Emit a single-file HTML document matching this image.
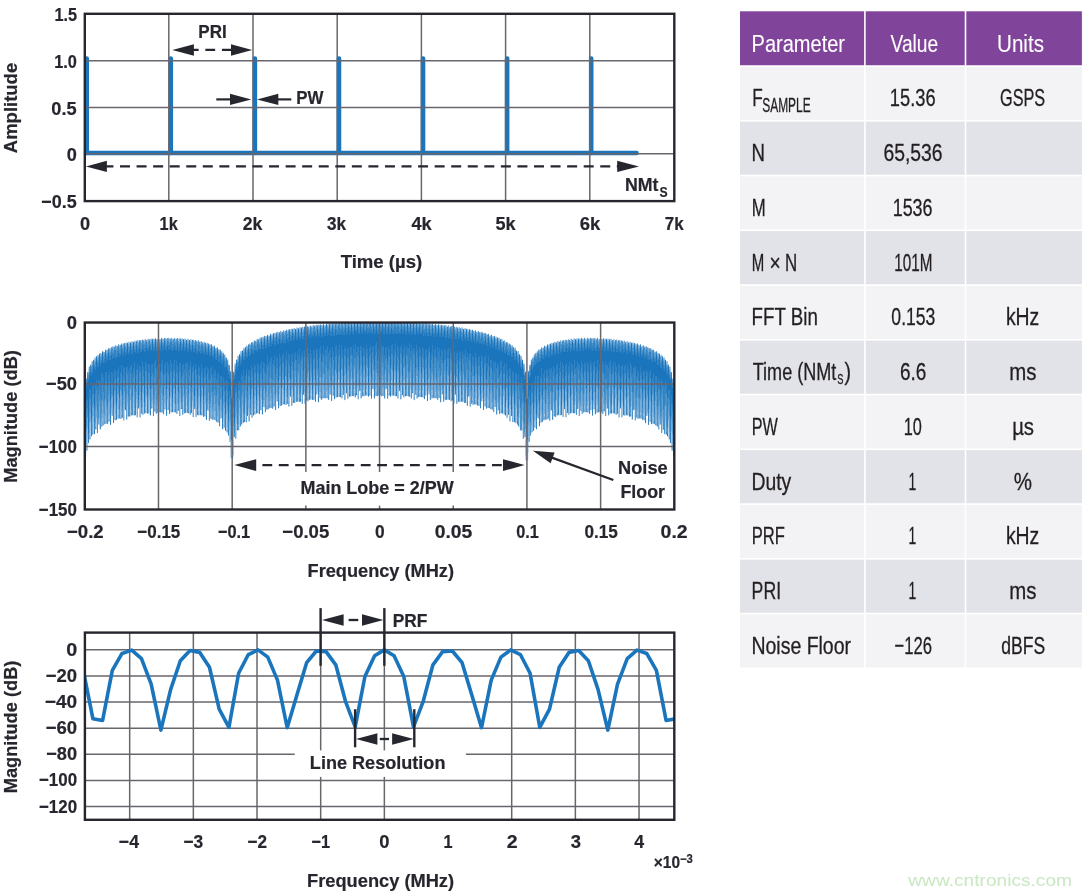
<!DOCTYPE html>
<html lang="en"><head><meta charset="utf-8"><title>Pulse train: time domain, spectrum and parameters</title>
<style>
html,body{margin:0;padding:0;background:#fff}
body{width:1092px;height:895px;overflow:hidden}
svg{display:block;will-change:transform;font-family:"Liberation Sans", sans-serif;font-size:18.2px;font-weight:bold;fill:#26262e}
text{stroke:#26262e;stroke-width:.2px}
.t text{stroke:#231f20;stroke-width:.3px}
.t text[fill="#ffffff"]{stroke:#fff;stroke-width:.1px}
.w text{stroke:none}
</style></head><body>
<svg width="1092" height="895" viewBox="0 0 1092 895">
<rect width="1092" height="895" fill="#fff"/>
<g id="chart-time">
<path d="M86.70,153 V58.5 M170.78,153 V58.5 M254.86,153 V58.5 M338.94,153 V58.5 M423.02,153 V58.5 M507.10,153 V58.5 M591.18,153 V58.5" stroke="#1b75bc" stroke-width="4.6" fill="none" stroke-linecap="round"/>
<line x1="86.00" y1="153.05" x2="636.60" y2="153.05" stroke="#1b75bc" stroke-width="4.5" stroke-linecap="round"/>
<line x1="168.80" y1="13.80" x2="168.80" y2="201.10" stroke="#68666d" stroke-width="1.5"/>
<line x1="253.00" y1="13.80" x2="253.00" y2="201.10" stroke="#68666d" stroke-width="1.5"/>
<line x1="337.20" y1="13.80" x2="337.20" y2="201.10" stroke="#68666d" stroke-width="1.5"/>
<line x1="421.40" y1="13.80" x2="421.40" y2="201.10" stroke="#68666d" stroke-width="1.5"/>
<line x1="505.60" y1="13.80" x2="505.60" y2="201.10" stroke="#68666d" stroke-width="1.5"/>
<line x1="589.80" y1="13.80" x2="589.80" y2="201.10" stroke="#68666d" stroke-width="1.5"/>
<line x1="84.80" y1="60.67" x2="674.30" y2="60.67" stroke="#68666d" stroke-width="1.5"/>
<line x1="84.80" y1="107.60" x2="674.30" y2="107.60" stroke="#68666d" stroke-width="1.5"/>
<line x1="84.80" y1="153.65" x2="674.30" y2="153.65" stroke="#68666d" stroke-width="1.5"/>
<rect x="84.80" y="13.80" width="589.50" height="187.30" fill="none" stroke="#26262e" stroke-width="2.4"/>
<text x="54.55" y="21.10" textLength="22.60" lengthAdjust="spacingAndGlyphs" font-size="18.9">1.5</text>
<text x="54.18" y="67.97" textLength="22.68" lengthAdjust="spacingAndGlyphs" font-size="18.9">1.0</text>
<text x="51.33" y="114.90" textLength="25.32" lengthAdjust="spacingAndGlyphs" font-size="18.9">0.5</text>
<text x="66.83" y="160.95" textLength="10.10" lengthAdjust="spacingAndGlyphs" font-size="18.9">0</text>
<text x="41.24" y="208.40" textLength="35.41" lengthAdjust="spacingAndGlyphs" font-size="18.9">−0.5</text>
<text x="80.03" y="229.80" textLength="10.10" lengthAdjust="spacingAndGlyphs" font-size="18.9">0</text>
<text x="159.60" y="229.80" textLength="18.08" lengthAdjust="spacingAndGlyphs" font-size="18.9">1k</text>
<text x="242.65" y="229.80" textLength="19.54" lengthAdjust="spacingAndGlyphs" font-size="18.9">2k</text>
<text x="326.93" y="229.80" textLength="19.01" lengthAdjust="spacingAndGlyphs" font-size="18.9">3k</text>
<text x="411.45" y="229.80" textLength="20.23" lengthAdjust="spacingAndGlyphs" font-size="18.9">4k</text>
<text x="495.42" y="229.80" textLength="20.07" lengthAdjust="spacingAndGlyphs" font-size="18.9">5k</text>
<text x="579.72" y="229.80" textLength="20.56" lengthAdjust="spacingAndGlyphs" font-size="18.9">6k</text>
<text x="664.87" y="229.80" textLength="18.82" lengthAdjust="spacingAndGlyphs" font-size="18.9">7k</text>
<text x="340.70" y="268.00" textLength="81.52" lengthAdjust="spacingAndGlyphs">Time (µs)</text>
<text transform="translate(17.45,152.90) rotate(-90)" x="-0.29" y="0" textLength="90.35" lengthAdjust="spacingAndGlyphs" font-size="18.5">Amplitude</text>
<text x="198.34" y="38.30" textLength="28.37" lengthAdjust="spacingAndGlyphs">PRI</text>
<polygon points="172.30,49.90 193.90,44.15 193.90,55.65" fill="#26262e"/>
<polygon points="252.20,49.90 231.00,44.15 231.00,55.65" fill="#26262e"/>
<line x1="188.80" y1="49.90" x2="232.00" y2="49.90" stroke="#26262e" stroke-width="2.3" stroke-dasharray="9.8 6.75"/>
<polygon points="251.30,99.40 230.00,93.70 230.00,105.10" fill="#26262e"/>
<line x1="216.30" y1="99.40" x2="231.00" y2="99.40" stroke="#26262e" stroke-width="2.2"/>
<polygon points="257.00,99.40 278.30,93.70 278.30,105.10" fill="#26262e"/>
<line x1="277.00" y1="99.40" x2="291.30" y2="99.40" stroke="#26262e" stroke-width="2.2"/>
<text x="296.34" y="103.60" textLength="27.20" lengthAdjust="spacingAndGlyphs">PW</text>
<polygon points="85.90,166.40 106.90,160.80 106.90,172.00" fill="#26262e"/>
<polygon points="639.00,166.40 617.20,160.80 617.20,172.00" fill="#26262e"/>
<line x1="103.44" y1="166.40" x2="626.00" y2="166.40" stroke="#26262e" stroke-width="2.2" stroke-dasharray="10 6.56"/>
<text x="624.89" y="191.00" textLength="33.50" lengthAdjust="spacingAndGlyphs">NMt</text>
<text x="659.49" y="196.90" textLength="8.15" lengthAdjust="spacingAndGlyphs" font-size="14.2">S</text>
</g>
<g id="chart-spectrum">
<g shape-rendering="crispEdges" fill="none" stroke-width="1">
<path stroke="#e8f1f8" d="M85.5 379V457M86.5 378V457M87.5 372V451M88.5 366V444M89.5 366V440M90.5 364V440M91.5 361V437M92.5 361V435M93.5 359V435M94.5 357V435M95.5 357V430M96.5 356V433M97.5 355V433M98.5 355V425M99.5 353V430M100.5 353V430M101.5 353V427M102.5 351V427M103.5 351V426M104.5 351V425M105.5 349V424M106.5 349V424M107.5 349V425M108.5 348V424M109.5 348V422M110.5 347V425M111.5 347V419M111.5 420V424M112.5 346V416M113.5 346V424M114.5 346V421M115.5 345V421M116.5 345V420M117.5 345V419M118.5 344V419M119.5 344V419M120.5 344V419M121.5 343V419M122.5 343V418M123.5 343V421M124.5 343V421M125.5 342V411M126.5 342V420M127.5 342V420M128.5 341V417M129.5 341V417M130.5 342V417M131.5 341V416M132.5 341V416M133.5 341V416M134.5 340V416M135.5 340V416M136.5 340V418M137.5 340V418M138.5 340V409M139.5 340V418M140.5 340V418M141.5 340V414M142.5 339V415M143.5 340V415M144.5 339V414M145.5 339V414M146.5 340V414M147.5 339V414M148.5 338V414M149.5 339V415M150.5 338V416M151.5 338V409M152.5 338V416M153.5 338V417M154.5 338V412M155.5 338V414M156.5 339V414M157.5 339V413M158.5 338V413M159.5 339V413M160.5 339V413M161.5 337V413M162.5 338V413M163.5 338V415M164.5 338V414M165.5 338V410M166.5 338V416M167.5 338V415M168.5 337V411M169.5 338V414M170.5 338V413M171.5 337V413M172.5 338V413M173.5 339V413M174.5 337V413M175.5 338V413M176.5 338V414M177.5 338V414M178.5 338V411M179.5 338V416M180.5 338V416M181.5 338V410M182.5 338V415M183.5 339V415M184.5 338V414M185.5 338V414M186.5 339V413M187.5 338V413M188.5 338V414M189.5 339V415M190.5 339V415M191.5 339V413M192.5 339V417M193.5 339V418M194.5 340V410M195.5 340V417M196.5 340V417M197.5 340V416M198.5 340V416M199.5 341V416M200.5 341V416M201.5 341V416M202.5 342V416M203.5 342V417M204.5 341V417M205.5 342V419M206.5 343V420M207.5 342V411M208.5 343V421M209.5 344V421M210.5 344V419M211.5 344V420M212.5 345V420M213.5 346V420M214.5 345V421M215.5 347V421M216.5 347V422M217.5 347V423M218.5 349V423M219.5 349V427M220.5 349V426M221.5 351V419M222.5 351V430M223.5 352V429M224.5 354V428M225.5 354V431M226.5 357V433M227.5 359V435M228.5 359V436M229.5 365V442M230.5 371V452M231.5 372V453M232.5 385V456M233.5 371V456M234.5 363V438M235.5 363V439M236.5 359V439M237.5 355V431M238.5 355V431M239.5 354V430M240.5 351V427M241.5 351V425M242.5 350V425M243.5 347V423M244.5 347V422M245.5 347V422M246.5 345V423M247.5 345V417M248.5 344V422M249.5 343V422M250.5 343V415M251.5 342V418M252.5 342V418M253.5 340V416M254.5 340V415M255.5 340V415M256.5 339V414M257.5 338V414M258.5 339V414M259.5 337V414M260.5 337V411M261.5 337V414M262.5 336V415M263.5 336V407M264.5 335V412M265.5 336V413M266.5 336V410M267.5 334V410M268.5 335V410M269.5 335V409M270.5 333V408M271.5 334V408M272.5 334V409M273.5 333V409M274.5 333V407M275.5 332V410M276.5 332V410M277.5 331V402M278.5 332V409M279.5 332V408M280.5 330V406M281.5 331V406M282.5 331V405M283.5 330V405M284.5 330V405M285.5 330V405M286.5 329V405M287.5 330V404M288.5 329V407M289.5 329V407M290.5 329V397M291.5 328V406M292.5 328V406M293.5 328V403M294.5 328V403M295.5 328V403M296.5 327V402M297.5 327V402M298.5 328V402M299.5 327V403M300.5 327V402M301.5 327V404M302.5 326V404M303.5 327V395M304.5 326V404M305.5 326V404M306.5 326V401M307.5 325V402M308.5 326V402M309.5 325V400M310.5 325V400M311.5 326V400M312.5 325V400M313.5 325V400M314.5 325V400M315.5 325V402M316.5 324V395M317.5 324V402M318.5 324V403M319.5 324V398M320.5 324V400M321.5 324V400M322.5 325V399M323.5 323V399M324.5 325V399M325.5 325V399M326.5 323V399M327.5 324V399M328.5 324V400M329.5 323V400M330.5 323V395M331.5 323V401M332.5 323V401M333.5 323V396M334.5 323V400M335.5 323V399M336.5 323V398M337.5 323V398M338.5 323V397M339.5 323V397M340.5 323V398M341.5 323V399M342.5 323V399M343.5 323V395M344.5 323V401M345.5 323V400M346.5 323V394M347.5 323V399M348.5 323V399M349.5 323V397M350.5 323V397M351.5 323V397M352.5 323V397M353.5 323V397M354.5 323V397M355.5 323V398M356.5 323V396M357.5 323V400M358.5 323V400M359.5 323V392M360.5 323V399M361.5 323V399M362.5 323V397M363.5 323V397M364.5 323V397M365.5 323V396M366.5 323V396M367.5 323V396M368.5 323V397M369.5 323V396M370.5 323V396M371.5 323V399M372.5 323V390M373.5 323V398M374.5 323V399M375.5 323V396M376.5 323V396M377.5 323V397M378.5 323V396M379.5 323V396M380.5 323V396M381.5 323V397M382.5 323V396M383.5 323V396M384.5 323V399M385.5 323V399M386.5 323V390M387.5 323V399M388.5 323V399M389.5 323V396M390.5 323V397M391.5 323V396M392.5 323V396M393.5 323V396M394.5 323V396M395.5 323V397M396.5 323V397M397.5 323V399M398.5 323V399M399.5 323V392M400.5 323V400M401.5 323V400M402.5 323V396M403.5 323V398M404.5 323V398M405.5 323V397M406.5 323V397M407.5 323V396M408.5 323V397M409.5 323V397M410.5 323V399M411.5 323V399M412.5 323V394M413.5 323V400M414.5 323V401M415.5 323V395M416.5 323V399M417.5 323V399M418.5 323V398M419.5 323V397M420.5 323V397M421.5 323V398M422.5 323V398M423.5 323V398M424.5 323V400M425.5 323V396M426.5 323V396M427.5 323V401M428.5 323V395M429.5 323V400M430.5 324V400M431.5 324V399M432.5 323V399M433.5 325V399M434.5 325V399M435.5 323V399M436.5 325V399M437.5 325V400M438.5 324V400M439.5 324V398M440.5 324V403M441.5 324V402M442.5 325V395M443.5 325V402M444.5 325V402M445.5 325V400M446.5 325V400M447.5 326V400M448.5 325V400M449.5 325V400M450.5 326V402M451.5 325V402M452.5 326V401M453.5 326V404M454.5 326V404M455.5 327V395M456.5 326V404M457.5 327V404M458.5 327V402M459.5 327V403M460.5 328V402M461.5 327V402M462.5 327V402M463.5 328V403M464.5 328V403M465.5 328V403M466.5 328V406M467.5 328V406M468.5 329V397M469.5 329V407M470.5 329V407M471.5 329V404M472.5 329V405M473.5 330V405M474.5 330V405M475.5 330V405M476.5 331V405M477.5 331V406M478.5 330V406M479.5 332V406M480.5 332V409M481.5 331V402M482.5 332V402M483.5 332V410M484.5 332V407M485.5 333V409M486.5 333V409M487.5 334V408M488.5 333V408M489.5 335V409M490.5 335V410M491.5 334V410M492.5 336V410M493.5 336V413M494.5 335V412M495.5 336V408M496.5 336V415M497.5 337V415M498.5 337V411M499.5 337V414M500.5 339V414M501.5 338V414M502.5 339V414M503.5 340V415M504.5 340V415M505.5 340V416M506.5 342V418M507.5 342V418M508.5 342V415M509.5 343V422M510.5 344V422M511.5 345V417M512.5 345V423M513.5 347V423M514.5 347V422M515.5 347V423M516.5 350V424M517.5 351V425M518.5 351V427M519.5 354V430M520.5 355V431M521.5 355V431M522.5 359V439M523.5 362V439M524.5 363V438M525.5 371V456M526.5 378V456M527.5 373V453M528.5 371V453M529.5 365V442M530.5 360V436M531.5 359V435M532.5 357V433M533.5 354V431M534.5 354V430M535.5 352V428M536.5 351V430M537.5 351V419M538.5 349V419M538.5 421V426M539.5 349V427M540.5 349V423M541.5 347V423M542.5 347V422M543.5 347V421M544.5 345V421M545.5 346V420M546.5 346V420M547.5 344V420M548.5 344V419M549.5 344V421M550.5 343V421M551.5 343V411M552.5 343V420M553.5 342V420M554.5 341V417M555.5 341V417M556.5 342V417M557.5 341V416M558.5 341V416M559.5 341V416M560.5 340V416M561.5 340V416M562.5 340V417M563.5 340V417M564.5 340V410M565.5 339V418M566.5 339V418M567.5 339V413M568.5 339V415M569.5 339V415M570.5 338V414M571.5 338V413M572.5 339V413M573.5 338V414M574.5 338V414M575.5 339V415M576.5 338V415M577.5 338V410M578.5 338V416M579.5 338V416M580.5 338V411M581.5 338V414M582.5 338V414M583.5 338V413M584.5 337V413M585.5 339V413M586.5 338V413M587.5 337V413M588.5 338V413M589.5 338V414M590.5 337V413M591.5 338V410M592.5 338V416M593.5 338V410M594.5 338V414M595.5 338V415M596.5 338V413M597.5 337V413M598.5 338V413M599.5 339V413M600.5 338V413M601.5 339V413M602.5 339V414M603.5 338V414M604.5 338V412M605.5 338V417M606.5 338V416M607.5 338V409M608.5 338V416M609.5 339V415M610.5 338V414M611.5 338V414M612.5 340V414M613.5 339V414M614.5 339V414M615.5 340V415M616.5 339V415M617.5 339V414M618.5 340V418M619.5 340V418M620.5 340V409M621.5 340V418M622.5 340V418M623.5 340V416M624.5 340V416M625.5 341V416M626.5 341V416M627.5 341V416M628.5 342V416M629.5 341V417M630.5 341V417M631.5 342V420M632.5 342V420M633.5 342V411M634.5 343V421M635.5 343V421M636.5 343V418M637.5 343V419M638.5 344V419M639.5 345V419M640.5 344V419M641.5 346V419M642.5 345V420M643.5 345V421M644.5 346V421M645.5 346V424M646.5 346V416M646.5 418V423M647.5 347V416M648.5 347V425M649.5 348V422M650.5 348V424M651.5 348V425M652.5 349V424M653.5 349V424M654.5 350V425M655.5 351V426M656.5 351V427M657.5 352V427M658.5 353V430M659.5 353V430M660.5 355V425M661.5 354V433M662.5 356V433M663.5 357V430M664.5 357V435M665.5 359V435M666.5 361V435M667.5 361V437M668.5 364V440M669.5 366V440M670.5 366V444M671.5 372V451M672.5 378V451M673.5 378V457M674.5 405V462"/>
<path stroke="#d1e3f2" d="M85.5 380V457M86.5 378V451M87.5 372V451M88.5 367V443M89.5 366V440M90.5 364V439M91.5 361V437M92.5 361V435M93.5 359V435M94.5 357V434M95.5 357V430M96.5 356V430M97.5 355V433M98.5 355V425M99.5 353V429M100.5 353V430M101.5 353V427M102.5 351V427M103.5 351V426M104.5 352V425M105.5 349V424M106.5 350V424M107.5 349V424M108.5 348V422M109.5 348V422M110.5 348V425M111.5 347V416M112.5 346V416M113.5 346V423M114.5 346V420M115.5 345V421M116.5 346V420M117.5 346V419M118.5 344V419M119.5 345V419M120.5 345V419M121.5 343V419M122.5 344V418M123.5 343V421M124.5 343V420M125.5 343V410M126.5 342V420M127.5 342V419M128.5 342V417M129.5 342V417M130.5 342V416M131.5 341V416M132.5 341V416M133.5 342V415M134.5 340V416M135.5 341V416M136.5 341V417M137.5 340V418M138.5 341V409M139.5 340V418M140.5 340V418M141.5 340V414M142.5 339V415M143.5 340V415M144.5 339V414M145.5 339V413M146.5 340V413M147.5 339V414M148.5 339V414M149.5 339V414M150.5 339V416M151.5 338V409M152.5 338V409M153.5 339V416M154.5 339V412M155.5 338V414M156.5 339V414M157.5 339V413M158.5 338V413M159.5 339V413M160.5 339V413M161.5 338V413M162.5 338V413M163.5 338V415M164.5 338V410M165.5 338V410M166.5 338V416M167.5 338V410M168.5 338V410M169.5 338V414M170.5 338V412M171.5 338V413M172.5 338V413M173.5 339V412M174.5 338V412M175.5 339V413M176.5 338V414M177.5 338V414M178.5 339V411M179.5 338V416M180.5 338V416M181.5 338V409M182.5 338V415M183.5 339V415M184.5 338V414M185.5 338V413M186.5 340V413M187.5 339V413M188.5 339V414M189.5 340V414M190.5 339V415M191.5 339V413M192.5 340V417M193.5 340V417M194.5 340V409M195.5 340V417M196.5 340V417M197.5 341V415M198.5 340V416M199.5 341V415M200.5 341V415M201.5 341V416M202.5 342V416M203.5 342V417M204.5 342V417M205.5 342V417M206.5 343V420M207.5 343V411M208.5 343V411M209.5 344V421M210.5 344V419M211.5 344V419M212.5 346V420M213.5 346V420M214.5 345V420M215.5 348V421M216.5 347V422M217.5 347V423M218.5 349V423M219.5 349V427M220.5 349V419M221.5 351V419M222.5 351V430M223.5 353V428M224.5 354V428M225.5 355V431M226.5 357V433M227.5 359V433M228.5 360V436M229.5 365V442M230.5 371V442M231.5 374V453M232.5 398V455M233.5 371V455M234.5 364V437M235.5 363V439M236.5 359V439M237.5 356V431M238.5 356V431M239.5 354V430M240.5 351V427M241.5 351V425M242.5 350V424M243.5 348V423M244.5 348V422M245.5 347V422M246.5 345V423M247.5 346V416M248.5 344V421M249.5 343V422M250.5 343V415M251.5 342V418M252.5 342V418M253.5 341V416M254.5 340V415M255.5 341V415M256.5 339V414M257.5 339V413M258.5 339V413M259.5 338V414M260.5 337V410M261.5 337V410M262.5 337V415M263.5 337V407M264.5 336V408M265.5 336V412M266.5 336V410M267.5 334V410M268.5 335V409M269.5 335V409M270.5 333V408M271.5 334V408M272.5 334V409M273.5 333V408M274.5 333V407M275.5 333V410M276.5 332V402M277.5 332V402M278.5 332V409M279.5 332V406M280.5 331V406M281.5 331V406M282.5 331V405M283.5 330V405M284.5 331V405M285.5 331V405M286.5 329V405M287.5 330V404M288.5 329V407M289.5 329V407M290.5 329V397M291.5 329V406M292.5 329V406M293.5 328V403M294.5 328V403M295.5 329V403M296.5 327V402M297.5 327V402M298.5 328V402M299.5 327V402M300.5 327V402M301.5 327V404M302.5 327V404M303.5 327V395M304.5 326V404M305.5 326V404M306.5 327V401M307.5 326V401M308.5 326V401M309.5 326V400M310.5 325V400M311.5 326V400M312.5 326V400M313.5 325V400M314.5 325V400M315.5 325V402M316.5 325V395M317.5 325V394M318.5 325V403M319.5 325V398M320.5 324V399M321.5 325V400M322.5 325V399M323.5 324V399M324.5 325V398M325.5 325V399M326.5 323V398M327.5 324V399M328.5 324V400M329.5 323V399M330.5 323V395M331.5 323V401M332.5 323V396M333.5 323V396M334.5 323V399M335.5 323V398M336.5 323V398M337.5 323V397M338.5 324V397M339.5 323V397M340.5 323V397M341.5 323V399M342.5 323V399M343.5 323V395M344.5 323V400M345.5 323V400M346.5 323V394M347.5 323V399M348.5 323V399M349.5 323V397M350.5 323V397M351.5 323V396M352.5 323V396M353.5 323V397M354.5 323V397M355.5 323V398M356.5 323V396M357.5 323V399M358.5 323V400M359.5 323V391M360.5 323V398M361.5 323V399M362.5 323V397M363.5 323V396M364.5 323V396M365.5 323V396M366.5 323V396M367.5 323V396M368.5 323V397M369.5 323V396M370.5 323V396M371.5 323V399M372.5 323V389M373.5 323V390M374.5 323V399M375.5 323V396M376.5 323V396M377.5 323V397M378.5 323V396M379.5 323V396M380.5 323V396M381.5 323V397M382.5 323V396M383.5 323V396M384.5 323V399M385.5 323V398M386.5 323V389M387.5 323V399M388.5 323V396M389.5 323V396M390.5 323V397M391.5 323V396M392.5 323V396M393.5 323V396M394.5 323V396M395.5 323V396M396.5 323V397M397.5 323V399M398.5 323V399M399.5 323V391M400.5 323V400M401.5 323V399M402.5 323V396M403.5 323V398M404.5 323V397M405.5 323V397M406.5 323V396M407.5 323V396M408.5 323V397M409.5 323V397M410.5 323V398M411.5 323V399M412.5 323V394M413.5 323V400M414.5 323V400M415.5 323V395M416.5 323V399M417.5 323V399M418.5 323V397M419.5 323V397M420.5 324V397M421.5 323V397M422.5 323V398M423.5 323V398M424.5 323V399M425.5 323V396M426.5 323V395M427.5 323V401M428.5 323V395M429.5 323V395M430.5 324V400M431.5 324V399M432.5 323V398M433.5 325V399M434.5 325V398M435.5 324V398M436.5 325V399M437.5 325V400M438.5 324V400M439.5 325V398M440.5 325V403M441.5 325V402M442.5 325V395M443.5 325V402M444.5 325V400M445.5 325V400M446.5 325V400M447.5 326V400M448.5 325V400M449.5 326V400M450.5 326V401M451.5 326V401M452.5 326V401M453.5 326V404M454.5 326V404M455.5 327V395M456.5 327V404M457.5 327V404M458.5 327V402M459.5 327V402M460.5 328V402M461.5 327V402M462.5 327V402M463.5 329V402M464.5 328V403M465.5 328V403M466.5 329V405M467.5 329V406M468.5 329V397M469.5 329V407M470.5 329V407M471.5 330V404M472.5 329V405M473.5 331V405M474.5 331V405M475.5 330V405M476.5 332V405M477.5 331V406M478.5 331V406M479.5 332V406M480.5 332V409M481.5 332V402M482.5 332V401M483.5 333V410M484.5 333V407M485.5 333V407M486.5 334V409M487.5 334V408M488.5 333V408M489.5 335V409M490.5 335V409M491.5 334V410M492.5 336V410M493.5 336V412M494.5 336V412M495.5 337V407M496.5 337V415M497.5 337V414M498.5 338V410M499.5 338V414M500.5 339V413M501.5 339V414M502.5 339V414M503.5 341V414M504.5 340V415M505.5 341V416M506.5 342V418M507.5 342V418M508.5 343V415M509.5 343V422M510.5 344V422M511.5 345V416M512.5 345V422M513.5 347V422M514.5 348V422M515.5 348V423M516.5 350V423M517.5 351V425M518.5 351V427M519.5 354V427M520.5 355V431M521.5 356V431M522.5 359V439M523.5 363V439M524.5 364V437M525.5 371V455M526.5 385V456M527.5 377V453M528.5 371V446M528.5 449V452M529.5 365V442M530.5 362V436M531.5 359V433M532.5 357V433M533.5 355V431M534.5 354V428M535.5 353V428M536.5 352V430M537.5 351V418M538.5 349V419M539.5 349V427M540.5 349V423M541.5 347V423M542.5 348V422M543.5 347V421M544.5 345V420M545.5 346V420M546.5 346V420M547.5 344V420M548.5 344V419M549.5 344V421M550.5 343V421M551.5 343V411M552.5 343V420M553.5 342V419M554.5 342V417M555.5 342V417M556.5 342V416M557.5 341V416M558.5 341V415M559.5 341V415M560.5 340V416M561.5 341V415M562.5 340V417M563.5 340V417M564.5 340V409M565.5 340V417M566.5 340V417M567.5 340V413M568.5 339V415M569.5 340V415M570.5 339V414M571.5 338V413M572.5 340V413M573.5 338V413M574.5 338V414M575.5 339V413M576.5 338V415M577.5 338V409M578.5 338V416M579.5 338V416M580.5 338V411M581.5 338V414M582.5 338V414M583.5 339V413M584.5 338V412M585.5 339V412M586.5 339V413M587.5 337V413M588.5 338V413M589.5 338V414M590.5 338V410M591.5 338V410M592.5 338V416M593.5 338V409M594.5 338V410M595.5 338V415M596.5 338V413M597.5 338V413M598.5 339V413M599.5 339V412M600.5 338V413M601.5 339V413M602.5 339V414M603.5 338V414M604.5 339V412M605.5 339V416M606.5 338V416M607.5 339V409M608.5 339V416M609.5 339V415M610.5 339V414M611.5 339V414M612.5 340V413M613.5 339V414M614.5 339V414M615.5 340V415M616.5 339V415M617.5 340V414M618.5 340V418M619.5 340V418M620.5 340V409M621.5 340V418M622.5 341V417M623.5 341V416M624.5 340V416M625.5 342V416M626.5 341V416M627.5 341V416M628.5 342V416M629.5 342V417M630.5 342V417M631.5 342V419M632.5 342V420M633.5 342V410M634.5 343V420M635.5 343V421M636.5 344V418M637.5 343V419M638.5 345V419M639.5 345V419M640.5 344V419M641.5 346V419M642.5 346V420M643.5 345V420M644.5 346V421M645.5 346V423M646.5 346V416M647.5 347V416M648.5 347V425M649.5 348V422M650.5 348V422M651.5 349V424M652.5 350V424M653.5 349V424M654.5 351V425M655.5 351V426M656.5 351V426M657.5 353V427M658.5 353V430M659.5 353V429M660.5 355V425M661.5 355V433M662.5 356V433M663.5 357V430M664.5 357V434M665.5 359V434M666.5 361V435M667.5 361V437M668.5 364V439M669.5 366V440M670.5 367V443M671.5 372V451M672.5 378V451M673.5 379V457M674.5 405V462"/>
<path stroke="#bbd6eb" d="M85.5 383V457M86.5 378V451M87.5 372V451M88.5 369V443M89.5 366V440M90.5 365V439M91.5 362V437M92.5 361V435M93.5 360V434M94.5 358V434M95.5 357V430M96.5 356V429M97.5 355V433M98.5 355V425M99.5 353V425M100.5 353V430M101.5 353V427M102.5 351V426M103.5 352V426M104.5 352V424M105.5 349V424M106.5 350V424M107.5 350V424M108.5 348V422M109.5 348V422M110.5 348V425M111.5 347V416M112.5 346V416M113.5 347V423M114.5 346V420M115.5 345V420M116.5 346V420M117.5 346V419M118.5 344V419M119.5 345V419M120.5 345V419M121.5 343V419M122.5 344V418M123.5 343V420M124.5 343V420M125.5 343V410M126.5 343V420M127.5 342V417M128.5 342V417M129.5 342V417M130.5 342V416M131.5 341V416M132.5 341V415M133.5 342V415M134.5 341V416M135.5 341V415M136.5 341V417M137.5 340V417M138.5 341V409M139.5 340V417M140.5 340V417M141.5 340V414M142.5 339V415M143.5 340V415M144.5 340V414M145.5 339V413M146.5 340V413M147.5 339V414M148.5 339V414M149.5 339V413M150.5 339V416M151.5 339V409M152.5 339V408M153.5 339V416M154.5 339V412M155.5 338V412M156.5 339V414M157.5 339V413M158.5 338V412M159.5 339V412M160.5 339V413M161.5 338V413M162.5 339V413M163.5 339V414M164.5 338V410M165.5 338V409M166.5 338V416M167.5 338V410M168.5 338V410M169.5 338V414M170.5 338V412M171.5 338V413M172.5 339V412M173.5 339V412M174.5 338V412M175.5 339V413M176.5 339V414M177.5 338V414M178.5 339V411M179.5 338V416M180.5 338V416M181.5 339V409M182.5 338V415M183.5 339V414M184.5 339V413M185.5 339V413M186.5 340V413M187.5 339V413M188.5 339V414M189.5 340V414M190.5 339V415M191.5 340V413M192.5 340V417M193.5 340V417M194.5 341V409M195.5 340V417M196.5 341V417M197.5 341V415M198.5 340V415M199.5 342V415M200.5 342V415M201.5 341V416M202.5 342V415M203.5 342V417M204.5 342V416M205.5 343V416M206.5 343V420M207.5 343V411M208.5 343V411M209.5 344V421M210.5 344V419M211.5 344V419M212.5 346V420M213.5 346V420M214.5 345V420M215.5 348V420M216.5 348V422M217.5 347V422M218.5 349V423M219.5 349V426M220.5 350V419M221.5 351V418M222.5 352V429M223.5 353V428M224.5 354V428M225.5 355V431M226.5 357V432M227.5 359V433M228.5 363V436M229.5 365V442M230.5 371V442M231.5 377V453M232.5 398V455M233.5 371V455M234.5 364V437M235.5 363V439M236.5 359V438M237.5 356V431M238.5 356V430M239.5 354V427M240.5 351V427M241.5 351V425M242.5 350V423M243.5 348V423M244.5 348V422M245.5 347V422M246.5 345V422M247.5 346V416M248.5 344V421M249.5 343V422M250.5 344V415M251.5 342V418M252.5 342V418M253.5 342V416M254.5 340V415M255.5 341V414M256.5 340V414M257.5 339V413M258.5 339V413M259.5 338V414M260.5 338V410M261.5 337V410M262.5 337V415M263.5 337V407M264.5 336V407M265.5 336V412M266.5 336V410M267.5 335V410M268.5 336V409M269.5 336V408M270.5 334V408M271.5 334V408M272.5 334V409M273.5 333V407M274.5 333V407M275.5 333V410M276.5 332V401M277.5 332V401M278.5 332V409M279.5 332V406M280.5 331V406M281.5 331V406M282.5 332V404M283.5 330V405M284.5 331V405M285.5 331V405M286.5 329V405M287.5 330V404M288.5 330V407M289.5 329V406M290.5 329V397M291.5 329V406M292.5 329V405M293.5 328V403M294.5 328V403M295.5 329V402M296.5 328V402M297.5 328V402M298.5 328V402M299.5 327V402M300.5 327V402M301.5 327V402M302.5 327V404M303.5 327V395M304.5 326V404M305.5 326V404M306.5 327V401M307.5 326V401M308.5 327V401M309.5 327V400M310.5 325V400M311.5 326V399M312.5 326V400M313.5 325V400M314.5 325V400M315.5 325V402M316.5 325V395M317.5 325V394M318.5 325V402M319.5 325V398M320.5 324V398M321.5 325V400M322.5 325V399M323.5 324V398M324.5 325V398M325.5 325V398M326.5 323V398M327.5 324V398M328.5 324V400M329.5 323V395M330.5 324V395M331.5 324V401M332.5 323V395M333.5 323V396M334.5 323V399M335.5 324V397M336.5 323V398M337.5 323V397M338.5 324V397M339.5 323V397M340.5 324V397M341.5 323V398M342.5 323V398M343.5 323V395M344.5 323V400M345.5 323V400M346.5 323V393M347.5 323V399M348.5 323V398M349.5 323V397M350.5 323V397M351.5 323V396M352.5 323V396M353.5 323V396M354.5 323V396M355.5 323V398M356.5 323V395M357.5 323V399M358.5 323V399M359.5 323V391M360.5 323V398M361.5 323V398M362.5 323V396M363.5 323V396M364.5 323V396M365.5 323V396M366.5 323V396M367.5 323V396M368.5 323V397M369.5 323V396M370.5 323V395M371.5 323V399M372.5 323V389M373.5 323V389M374.5 323V399M375.5 323V396M376.5 323V396M377.5 323V396M378.5 323V396M379.5 323V395M380.5 323V396M381.5 323V396M382.5 323V396M383.5 323V396M384.5 323V399M385.5 323V390M386.5 323V389M387.5 323V399M388.5 323V396M389.5 323V396M390.5 323V397M391.5 323V395M392.5 323V396M393.5 323V396M394.5 323V396M395.5 323V396M396.5 323V396M397.5 323V398M398.5 323V398M399.5 323V391M400.5 323V399M401.5 323V399M402.5 323V395M403.5 323V397M404.5 323V397M405.5 323V396M406.5 323V396M407.5 323V396M408.5 323V397M409.5 323V397M410.5 323V397M411.5 323V399M412.5 323V393M413.5 323V393M413.5 394V400M414.5 323V400M415.5 323V395M416.5 323V398M417.5 323V399M418.5 324V397M419.5 323V397M420.5 324V397M421.5 324V397M422.5 323V397M423.5 324V397M424.5 324V399M425.5 323V396M426.5 323V395M427.5 324V401M428.5 324V394M429.5 323V395M430.5 324V400M431.5 324V398M432.5 323V398M433.5 325V398M434.5 325V398M435.5 324V398M436.5 325V399M437.5 325V400M438.5 324V398M439.5 325V398M440.5 325V402M441.5 325V394M442.5 325V395M443.5 325V402M444.5 325V400M445.5 325V400M446.5 325V400M447.5 326V399M448.5 325V400M449.5 327V400M450.5 326V401M451.5 326V401M452.5 327V401M453.5 326V404M454.5 326V404M455.5 327V395M456.5 327V404M457.5 327V404M458.5 328V402M459.5 327V402M460.5 328V402M461.5 328V402M462.5 327V402M463.5 329V402M464.5 328V403M465.5 328V403M466.5 329V403M467.5 329V406M468.5 329V397M469.5 329V399M469.5 401V406M470.5 330V407M471.5 330V404M472.5 329V405M473.5 331V405M474.5 331V405M475.5 330V405M476.5 332V405M477.5 332V406M478.5 331V406M479.5 332V406M480.5 332V409M481.5 332V401M482.5 332V401M483.5 333V410M484.5 333V406M485.5 333V407M486.5 334V409M487.5 334V408M488.5 334V408M489.5 336V408M490.5 335V409M491.5 335V409M492.5 336V410M493.5 336V412M494.5 336V407M495.5 337V407M496.5 337V415M497.5 337V410M498.5 338V410M499.5 338V414M500.5 339V413M501.5 339V413M502.5 339V414M503.5 341V414M504.5 340V415M505.5 342V416M506.5 342V418M507.5 342V418M508.5 344V415M509.5 343V421M510.5 344V421M511.5 346V416M512.5 345V422M513.5 347V422M514.5 348V422M515.5 348V423M516.5 350V423M517.5 351V425M518.5 351V427M519.5 354V426M520.5 356V430M521.5 356V431M522.5 359V431M523.5 363V439M524.5 364V437M525.5 371V448M525.5 450V455M526.5 396V455M527.5 385V453M528.5 371V442M529.5 365V442M530.5 364V436M531.5 359V433M532.5 357V432M533.5 357V431M534.5 354V428M535.5 353V428M536.5 353V429M537.5 351V418M538.5 350V419M539.5 349V426M540.5 349V423M541.5 347V423M542.5 348V422M543.5 348V420M544.5 345V420M545.5 346V420M546.5 346V420M547.5 344V419M548.5 345V419M549.5 344V421M550.5 343V411M551.5 343V411M552.5 343V420M553.5 343V416M554.5 342V417M555.5 342V417M556.5 342V415M557.5 341V416M558.5 341V415M559.5 342V415M560.5 340V415M561.5 341V415M562.5 341V417M563.5 340V417M564.5 340V409M565.5 340V417M566.5 340V417M567.5 340V413M568.5 339V415M569.5 340V414M570.5 339V414M571.5 339V413M572.5 340V413M573.5 339V413M574.5 338V413M575.5 339V413M576.5 338V415M577.5 339V409M578.5 338V409M579.5 338V416M580.5 339V411M581.5 338V414M582.5 339V414M583.5 339V413M584.5 338V412M585.5 339V412M586.5 339V412M587.5 338V412M588.5 339V412M589.5 339V414M590.5 338V410M591.5 338V410M592.5 338V416M593.5 338V409M594.5 338V410M595.5 338V414M596.5 339V413M597.5 338V413M598.5 339V413M599.5 339V412M600.5 338V412M601.5 339V413M602.5 339V414M603.5 338V414M604.5 339V412M605.5 339V416M606.5 339V409M607.5 339V409M608.5 339V416M609.5 339V414M610.5 339V414M611.5 339V414M612.5 340V413M613.5 339V413M614.5 340V414M615.5 340V415M616.5 339V415M617.5 340V414M618.5 340V417M619.5 340V417M620.5 341V409M621.5 340V417M622.5 341V417M623.5 341V415M624.5 340V416M625.5 342V415M626.5 342V415M627.5 341V416M628.5 342V415M629.5 342V417M630.5 342V417M631.5 342V417M632.5 343V420M633.5 343V410M634.5 343V410M635.5 344V420M636.5 344V418M637.5 343V419M638.5 345V419M639.5 345V419M640.5 344V419M641.5 346V419M642.5 346V420M643.5 345V420M644.5 346V420M645.5 347V423M646.5 346V416M647.5 347V416M648.5 348V425M649.5 348V422M650.5 348V422M651.5 349V424M652.5 350V424M653.5 349V424M654.5 352V424M655.5 352V426M656.5 351V426M657.5 353V427M658.5 353V430M659.5 353V429M660.5 355V425M661.5 355V433M662.5 356V430M663.5 358V430M664.5 357V434M665.5 360V434M666.5 361V435M667.5 361V437M668.5 364V437M669.5 367V440M670.5 367V443M671.5 372V450M672.5 378V451M673.5 380V457M674.5 405V462"/>
<path stroke="#a4c8e4" d="M85.5 387V457M86.5 379V451M87.5 372V450M88.5 372V443M89.5 367V439M90.5 365V439M91.5 364V436M92.5 361V435M93.5 360V434M94.5 359V434M95.5 358V430M96.5 356V429M97.5 355V433M98.5 355V424M99.5 353V425M100.5 353V429M101.5 354V427M102.5 351V426M103.5 352V425M104.5 352V424M105.5 350V424M106.5 350V424M107.5 350V424M108.5 348V422M109.5 348V422M110.5 348V425M111.5 347V415M112.5 347V416M113.5 347V423M114.5 346V420M115.5 345V420M116.5 346V420M117.5 346V418M118.5 344V419M119.5 345V419M120.5 345V419M121.5 343V419M122.5 345V418M123.5 344V420M124.5 343V410M125.5 343V410M126.5 343V420M127.5 343V416M128.5 342V417M129.5 342V417M130.5 342V415M131.5 341V416M132.5 342V415M133.5 342V415M134.5 341V416M135.5 341V415M136.5 341V408M137.5 340V417M138.5 341V409M139.5 340V417M140.5 340V417M141.5 341V414M142.5 339V415M143.5 340V414M144.5 341V414M145.5 339V413M146.5 340V413M147.5 340V414M148.5 339V414M149.5 339V413M150.5 339V415M151.5 339V409M152.5 339V408M153.5 339V416M154.5 339V412M155.5 338V412M156.5 339V414M157.5 339V413M158.5 338V412M159.5 339V412M160.5 339V412M161.5 338V412M162.5 339V413M163.5 339V414M164.5 338V409M165.5 338V409M166.5 339V416M167.5 338V410M168.5 338V410M169.5 339V414M170.5 339V412M171.5 338V412M172.5 339V412M173.5 339V412M174.5 338V412M175.5 339V413M176.5 339V414M177.5 338V413M178.5 339V411M179.5 339V416M180.5 338V409M181.5 339V409M182.5 339V415M183.5 339V413M184.5 339V413M185.5 339V413M186.5 340V412M187.5 339V413M188.5 339V413M189.5 340V413M190.5 339V415M191.5 340V413M192.5 340V407M193.5 340V417M194.5 341V409M195.5 340V417M196.5 341V417M197.5 341V415M198.5 340V415M199.5 342V415M200.5 342V415M201.5 341V415M202.5 342V415M203.5 343V417M204.5 342V416M205.5 343V416M206.5 343V420M207.5 343V410M208.5 343V411M209.5 344V421M210.5 345V419M211.5 344V419M212.5 346V420M213.5 346V420M214.5 346V420M215.5 348V420M216.5 348V422M217.5 347V422M218.5 349V423M219.5 350V426M220.5 350V418M221.5 351V418M222.5 353V429M223.5 353V422M223.5 424V427M224.5 355V428M225.5 357V431M226.5 357V432M227.5 360V432M228.5 365V436M229.5 365V442M230.5 371V442M231.5 380V453M232.5 398V455M233.5 372V455M234.5 366V437M235.5 364V439M236.5 360V430M237.5 357V431M238.5 356V430M239.5 354V426M240.5 352V427M241.5 351V425M242.5 350V422M243.5 348V423M244.5 348V422M245.5 347V414M246.5 346V422M247.5 346V416M248.5 344V414M248.5 416V421M249.5 344V421M250.5 344V415M251.5 342V418M252.5 342V418M253.5 343V416M254.5 340V414M255.5 341V414M256.5 341V414M257.5 339V413M258.5 339V413M259.5 339V414M260.5 338V410M261.5 337V410M262.5 337V415M263.5 337V407M264.5 336V407M265.5 336V412M266.5 336V410M267.5 335V409M268.5 336V409M269.5 336V408M270.5 334V408M271.5 335V408M272.5 334V409M273.5 333V406M274.5 333V406M275.5 333V410M276.5 332V401M277.5 332V401M278.5 332V408M279.5 332V402M279.5 403V405M280.5 331V406M281.5 332V406M282.5 332V404M283.5 330V404M284.5 331V404M285.5 331V405M286.5 330V405M287.5 331V404M288.5 330V406M289.5 329V406M290.5 330V397M291.5 329V406M292.5 329V403M293.5 329V403M294.5 328V403M295.5 329V401M296.5 328V402M297.5 328V402M298.5 328V401M299.5 327V402M300.5 328V402M301.5 327V395M302.5 327V404M303.5 328V395M304.5 327V396M304.5 399V403M305.5 327V404M306.5 327V400M307.5 326V401M308.5 327V401M309.5 327V400M310.5 325V399M311.5 326V399M312.5 326V400M313.5 325V400M314.5 326V399M315.5 326V402M316.5 325V394M317.5 325V392M318.5 325V402M319.5 325V398M320.5 324V398M321.5 325V400M322.5 325V398M323.5 324V398M324.5 325V398M325.5 325V398M326.5 324V398M327.5 325V398M328.5 324V400M329.5 323V395M330.5 324V394M331.5 324V401M332.5 323V395M333.5 323V396M334.5 324V399M335.5 324V397M336.5 323V397M337.5 324V397M338.5 324V396M339.5 323V397M340.5 324V397M341.5 323V398M342.5 323V398M343.5 324V395M344.5 323V400M345.5 323V400M346.5 323V393M347.5 323V399M348.5 323V396M349.5 323V397M350.5 323V396M351.5 323V396M352.5 323V396M353.5 323V396M354.5 323V396M355.5 323V397M356.5 323V395M357.5 323V392M357.5 394V395M358.5 323V399M359.5 323V391M360.5 323V391M360.5 393V398M361.5 323V398M362.5 323V396M363.5 323V396M364.5 323V396M365.5 323V396M366.5 323V395M367.5 323V395M368.5 323V397M369.5 323V396M370.5 323V395M371.5 323V399M372.5 323V389M373.5 323V389M374.5 323V399M375.5 323V396M376.5 323V396M377.5 323V396M378.5 323V395M379.5 323V395M380.5 323V395M381.5 323V396M382.5 323V396M383.5 323V396M384.5 323V398M385.5 323V389M386.5 323V389M387.5 323V399M388.5 323V392M388.5 393V395M389.5 323V396M390.5 323V397M391.5 323V395M392.5 323V396M393.5 323V396M394.5 323V396M395.5 323V396M396.5 323V396M397.5 323V398M398.5 323V398M399.5 323V391M400.5 323V399M401.5 323V399M402.5 323V395M403.5 323V397M404.5 323V396M405.5 323V396M406.5 323V396M407.5 323V396M408.5 323V396M409.5 323V397M410.5 323V389M411.5 323V399M412.5 323V393M413.5 323V393M414.5 323V400M415.5 323V395M416.5 323V398M417.5 323V398M418.5 324V397M419.5 323V397M420.5 324V397M421.5 324V397M422.5 323V397M423.5 324V397M424.5 324V399M425.5 323V395M426.5 323V391M427.5 324V401M428.5 324V394M429.5 323V394M430.5 324V400M431.5 324V398M432.5 324V398M433.5 325V398M434.5 325V398M435.5 324V398M436.5 325V398M437.5 325V400M438.5 324V398M439.5 325V398M440.5 325V402M441.5 325V394M442.5 325V394M443.5 325V402M444.5 325V395M444.5 396V399M445.5 325V400M446.5 326V400M447.5 326V399M448.5 325V400M449.5 327V400M450.5 327V401M451.5 326V401M452.5 327V400M453.5 327V404M454.5 327V403M455.5 328V395M456.5 327V404M457.5 327V403M458.5 328V402M459.5 327V402M460.5 328V401M461.5 328V402M462.5 328V402M463.5 329V401M464.5 329V403M465.5 328V403M466.5 329V396M467.5 329V406M468.5 330V397M469.5 329V396M470.5 330V407M471.5 331V404M472.5 330V404M473.5 331V405M474.5 331V404M475.5 330V404M476.5 332V404M477.5 332V406M478.5 331V406M479.5 332V406M480.5 332V408M481.5 332V401M482.5 332V399M483.5 333V410M484.5 333V406M485.5 333V406M486.5 334V409M487.5 334V408M488.5 334V408M489.5 336V408M490.5 336V409M491.5 335V409M492.5 337V410M493.5 336V412M494.5 336V407M495.5 337V407M496.5 337V415M497.5 337V407M497.5 409V410M498.5 338V410M499.5 338V414M500.5 339V413M501.5 339V413M502.5 340V414M503.5 341V404M504.5 340V414M505.5 343V416M506.5 342V418M507.5 342V418M508.5 344V415M509.5 344V421M510.5 344V421M511.5 346V416M512.5 345V422M513.5 347V422M514.5 348V422M515.5 348V423M516.5 350V422M517.5 351V425M518.5 351V427M519.5 354V418M520.5 356V430M521.5 356V431M522.5 360V430M523.5 364V439M524.5 364V437M525.5 372V437M526.5 398V455M527.5 391V453M528.5 371V442M529.5 365V442M530.5 365V436M531.5 360V432M532.5 358V432M533.5 357V431M534.5 354V428M535.5 353V427M536.5 353V429M537.5 351V418M538.5 350V418M539.5 350V426M540.5 349V422M541.5 347V422M542.5 348V422M543.5 348V420M544.5 346V420M545.5 347V420M546.5 346V420M547.5 344V419M548.5 345V419M549.5 344V421M550.5 343V411M551.5 343V411M552.5 343V420M553.5 343V413M553.5 414V416M554.5 342V416M555.5 342V417M556.5 342V415M557.5 341V416M558.5 342V415M559.5 342V405M560.5 340V415M561.5 341V415M562.5 341V417M563.5 340V417M564.5 341V409M565.5 340V417M566.5 340V417M567.5 341V413M568.5 339V415M569.5 340V414M570.5 340V413M571.5 339V413M572.5 340V412M573.5 340V413M574.5 339V413M575.5 339V405M576.5 339V415M577.5 339V409M578.5 338V408M579.5 339V416M580.5 339V411M581.5 338V411M582.5 339V414M583.5 339V413M584.5 338V412M585.5 339V412M586.5 339V412M587.5 338V412M588.5 339V412M589.5 339V414M590.5 338V410M591.5 338V410M592.5 338V416M593.5 338V409M594.5 338V409M595.5 339V414M596.5 339V412M597.5 338V412M598.5 339V412M599.5 339V412M600.5 338V412M601.5 339V413M602.5 339V414M603.5 338V412M604.5 339V412M605.5 339V416M606.5 339V408M607.5 339V409M608.5 339V415M609.5 339V409M609.5 410V413M610.5 339V414M611.5 339V414M612.5 340V403M613.5 339V413M614.5 341V414M615.5 340V414M616.5 340V415M617.5 341V414M618.5 340V417M619.5 340V417M620.5 341V409M621.5 340V417M622.5 341V417M623.5 342V415M624.5 341V416M625.5 342V415M626.5 342V415M627.5 341V415M628.5 342V415M629.5 342V417M630.5 342V417M631.5 343V413M631.5 414V416M632.5 343V420M633.5 343V410M634.5 343V410M635.5 344V420M636.5 344V418M637.5 343V418M638.5 345V419M639.5 345V418M640.5 344V418M641.5 346V419M642.5 346V420M643.5 345V420M644.5 347V420M645.5 347V423M646.5 346V416M647.5 347V415M648.5 348V425M649.5 348V421M650.5 348V422M651.5 350V424M652.5 350V423M653.5 350V424M654.5 352V424M655.5 352V425M656.5 351V426M657.5 353V427M658.5 353V429M659.5 353V425M660.5 355V425M661.5 355V433M662.5 356V426M662.5 427V429M663.5 358V430M664.5 358V434M665.5 360V434M666.5 361V435M667.5 362V436M668.5 365V428M669.5 367V439M670.5 369V443M671.5 372V444M671.5 445V450M672.5 379V451M673.5 382V457M674.5 406V461"/>
<path stroke="#8dbade" d="M85.5 396V457M86.5 379V450M87.5 372V437M88.5 372V443M89.5 367V439M90.5 365V423M91.5 365V436M92.5 361V434M93.5 360V421M94.5 360V434M95.5 358V429M96.5 356V419M97.5 356V433M98.5 355V424M99.5 354V424M100.5 353V429M101.5 354V426M102.5 351V425M103.5 352V425M104.5 352V424M105.5 350V424M106.5 350V423M107.5 350V424M108.5 348V421M109.5 348V421M110.5 349V425M111.5 347V412M112.5 347V416M113.5 347V423M114.5 347V409M115.5 345V420M116.5 346V420M117.5 346V409M118.5 344V418M119.5 346V418M120.5 345V419M121.5 344V418M122.5 345V418M123.5 344V420M124.5 343V409M125.5 344V410M126.5 343V419M127.5 343V405M128.5 344V416M129.5 343V417M130.5 342V401M131.5 342V415M132.5 342V415M133.5 342V403M134.5 341V415M135.5 342V415M136.5 341V403M137.5 340V417M138.5 342V408M139.5 340V407M140.5 340V417M141.5 341V414M142.5 340V414M143.5 340V402M144.5 341V414M145.5 339V413M146.5 340V399M147.5 340V414M148.5 339V413M149.5 339V401M150.5 340V415M151.5 339V408M152.5 339V404M153.5 339V416M154.5 340V411M155.5 338V412M156.5 339V414M157.5 340V412M158.5 338V412M159.5 340V412M160.5 340V412M161.5 338V412M162.5 339V412M163.5 339V414M164.5 338V409M165.5 339V409M166.5 339V416M167.5 338V401M168.5 338V410M169.5 339V414M170.5 339V399M171.5 338V412M172.5 339V412M173.5 339V402M174.5 338V412M175.5 340V412M176.5 339V414M177.5 338V411M178.5 340V411M179.5 339V416M180.5 339V403M181.5 340V409M182.5 339V415M183.5 339V401M184.5 340V413M185.5 339V413M186.5 340V399M187.5 339V413M188.5 340V413M189.5 340V402M190.5 340V415M191.5 341V413M192.5 340V402M193.5 340V417M194.5 342V409M195.5 340V409M196.5 341V416M197.5 342V415M198.5 340V410M198.5 411V415M199.5 342V404M200.5 342V415M201.5 341V415M202.5 343V404M203.5 343V417M204.5 342V416M205.5 343V405M206.5 344V420M207.5 343V410M208.5 344V410M209.5 345V421M210.5 345V418M211.5 344V419M212.5 346V420M213.5 347V419M214.5 346V420M215.5 348V420M216.5 348V422M217.5 347V422M218.5 350V422M219.5 350V426M220.5 350V418M221.5 352V418M222.5 353V429M223.5 353V418M224.5 355V427M225.5 358V431M226.5 358V418M227.5 360V432M228.5 365V436M229.5 365V430M230.5 371V442M231.5 390V452M232.5 399V455M233.5 372V437M234.5 369V437M235.5 364V439M236.5 360V423M237.5 359V430M238.5 356V430M239.5 354V416M240.5 353V426M241.5 352V424M242.5 350V411M243.5 349V423M244.5 349V422M245.5 347V409M246.5 346V422M247.5 347V416M248.5 344V411M249.5 344V421M250.5 345V415M251.5 342V415M252.5 342V417M253.5 343V415M254.5 341V409M254.5 410V414M255.5 341V404M256.5 341V414M257.5 339V413M258.5 339V401M259.5 339V414M260.5 338V410M261.5 337V400M262.5 338V414M263.5 337V407M264.5 336V407M265.5 336V412M266.5 337V410M267.5 335V409M268.5 336V409M269.5 336V408M270.5 334V402M270.5 403V408M271.5 335V408M272.5 335V409M273.5 333V406M274.5 333V406M275.5 334V410M276.5 332V398M277.5 332V401M278.5 333V408M279.5 332V394M280.5 331V406M281.5 332V406M282.5 332V390M283.5 330V404M284.5 332V404M285.5 331V393M286.5 330V405M287.5 331V404M288.5 330V406M289.5 329V395M290.5 331V397M291.5 329V406M292.5 329V391M293.5 330V403M294.5 328V403M295.5 329V387M296.5 329V402M297.5 328V402M298.5 328V389M299.5 328V402M300.5 328V402M301.5 327V389M302.5 327V404M303.5 329V395M304.5 327V393M305.5 327V403M306.5 328V400M307.5 326V401M308.5 327V401M309.5 327V400M310.5 326V394M310.5 395V399M311.5 327V390M312.5 327V400M313.5 325V400M314.5 326V388M315.5 326V402M316.5 325V394M317.5 325V390M318.5 325V402M319.5 325V397M320.5 324V398M321.5 325V400M322.5 325V398M323.5 324V398M324.5 326V398M325.5 325V398M326.5 324V392M326.5 393V398M327.5 325V398M328.5 325V400M329.5 324V394M330.5 324V394M331.5 324V401M332.5 324V386M333.5 323V395M334.5 324V399M335.5 324V384M336.5 323V397M337.5 324V397M338.5 324V380M339.5 323V397M340.5 324V397M341.5 323V398M342.5 323V395M343.5 324V395M344.5 323V400M345.5 323V387M346.5 324V393M347.5 323V398M348.5 323V385M349.5 324V397M350.5 323V396M351.5 323V382M352.5 323V396M353.5 323V396M354.5 323V384M355.5 323V397M356.5 323V395M357.5 323V387M358.5 323V399M359.5 323V391M360.5 323V391M361.5 323V398M362.5 323V396M363.5 323V390M363.5 392V396M364.5 323V396M365.5 323V396M366.5 323V390M366.5 391V395M367.5 323V384M368.5 323V397M369.5 323V395M370.5 323V384M371.5 323V399M372.5 323V389M373.5 323V389M374.5 323V398M375.5 323V396M376.5 323V396M377.5 323V396M378.5 323V395M379.5 323V395M380.5 323V395M381.5 323V396M382.5 323V396M383.5 323V396M384.5 323V398M385.5 323V389M386.5 323V389M387.5 323V399M388.5 323V386M389.5 323V395M390.5 323V397M391.5 323V381M392.5 323V395M393.5 323V396M394.5 323V380M395.5 323V396M396.5 323V396M397.5 323V398M398.5 323V391M399.5 323V391M400.5 323V399M401.5 323V384M402.5 323V395M403.5 323V397M404.5 323V382M405.5 324V396M406.5 323V396M407.5 323V383M408.5 323V396M409.5 323V397M410.5 323V384M411.5 323V398M412.5 324V393M413.5 323V388M414.5 323V400M415.5 324V395M416.5 323V395M417.5 323V398M418.5 324V397M419.5 323V391M419.5 393V397M420.5 324V397M421.5 324V397M422.5 323V391M422.5 392V397M423.5 324V387M424.5 324V399M425.5 323V395M426.5 324V386M427.5 324V401M428.5 324V391M429.5 324V394M430.5 325V400M431.5 325V398M432.5 324V398M433.5 325V398M434.5 325V398M435.5 324V392M435.5 393V398M436.5 326V398M437.5 325V400M438.5 324V398M439.5 326V398M440.5 326V402M441.5 325V390M442.5 325V394M443.5 326V402M444.5 326V388M445.5 325V400M446.5 327V400M447.5 327V385M448.5 326V399M449.5 327V400M450.5 327V385M451.5 326V401M452.5 328V400M453.5 327V397M453.5 398V403M454.5 327V393M455.5 328V395M456.5 327V404M457.5 327V389M458.5 329V402M459.5 327V402M460.5 328V387M461.5 329V402M462.5 328V402M463.5 329V390M464.5 329V403M465.5 329V403M466.5 329V391M467.5 329V406M468.5 331V397M469.5 329V396M470.5 330V406M471.5 331V404M472.5 330V399M472.5 400V404M473.5 331V405M474.5 332V404M475.5 330V399M475.5 400V404M476.5 332V404M477.5 332V405M478.5 331V400M478.5 401V406M479.5 332V396M480.5 333V408M481.5 332V401M482.5 333V397M483.5 333V410M484.5 333V401M485.5 333V406M486.5 335V409M487.5 335V408M488.5 334V408M489.5 336V408M490.5 336V409M491.5 335V403M491.5 404V409M492.5 337V410M493.5 336V412M494.5 336V407M495.5 338V407M496.5 338V414M497.5 337V403M498.5 338V410M499.5 339V414M500.5 339V400M501.5 339V413M502.5 341V414M503.5 341V397M504.5 341V414M505.5 343V415M506.5 342V402M507.5 342V417M508.5 345V415M509.5 344V414M509.5 416V421M510.5 345V409M511.5 346V416M512.5 346V422M513.5 347V409M514.5 349V422M515.5 348V423M516.5 351V409M517.5 352V425M518.5 351V426M519.5 354V413M520.5 356V430M521.5 357V430M522.5 360V422M523.5 364V439M524.5 366V437M525.5 372V437M526.5 398V455M527.5 396V452M528.5 371V442M529.5 365V442M530.5 365V436M531.5 360V432M532.5 358V432M533.5 358V431M534.5 355V427M535.5 353V420M536.5 353V429M537.5 351V417M538.5 350V418M539.5 350V426M540.5 349V416M541.5 348V422M542.5 348V422M543.5 348V420M544.5 346V414M544.5 416V420M545.5 347V420M546.5 346V419M547.5 344V419M548.5 346V419M549.5 345V421M550.5 343V410M551.5 344V410M552.5 344V420M553.5 343V406M554.5 342V416M555.5 343V417M556.5 342V401M557.5 341V415M558.5 342V415M559.5 342V399M560.5 341V415M561.5 342V415M562.5 341V403M563.5 340V416M564.5 342V409M565.5 340V417M566.5 340V402M567.5 341V413M568.5 339V414M569.5 340V399M570.5 341V413M571.5 339V413M572.5 340V400M573.5 340V413M574.5 339V413M575.5 339V401M576.5 339V415M577.5 340V409M578.5 339V404M579.5 339V416M580.5 340V411M581.5 338V411M582.5 339V414M583.5 340V412M584.5 338V406M584.5 407V412M585.5 339V412M586.5 340V412M587.5 338V406M587.5 408V412M588.5 339V412M589.5 339V414M590.5 338V410M591.5 338V404M592.5 339V416M593.5 338V404M594.5 338V409M595.5 339V414M596.5 339V405M597.5 338V412M598.5 340V412M599.5 339V412M600.5 338V406M600.5 407V412M601.5 340V412M602.5 339V414M603.5 338V411M604.5 340V411M605.5 339V416M606.5 339V405M607.5 340V408M608.5 339V415M609.5 339V401M610.5 339V413M611.5 340V414M612.5 340V397M613.5 339V413M614.5 341V414M615.5 340V399M616.5 340V415M617.5 341V414M618.5 340V404M619.5 340V417M620.5 342V408M621.5 340V417M622.5 341V403M623.5 342V415M624.5 341V415M625.5 342V400M626.5 343V415M627.5 341V415M628.5 342V403M629.5 343V417M630.5 342V416M631.5 343V406M632.5 343V419M633.5 344V410M634.5 343V409M635.5 344V420M636.5 345V418M637.5 344V413M637.5 414V418M638.5 345V419M639.5 346V418M640.5 344V413M640.5 414V418M641.5 346V418M642.5 346V420M643.5 345V414M643.5 415V420M644.5 347V420M645.5 347V423M646.5 347V416M647.5 347V413M648.5 348V425M649.5 348V413M650.5 348V422M651.5 350V424M652.5 350V423M653.5 350V418M653.5 419V423M654.5 352V424M655.5 352V425M656.5 351V425M657.5 354V426M658.5 353V429M659.5 354V424M660.5 356V424M661.5 355V433M662.5 356V422M663.5 358V430M664.5 359V434M665.5 360V421M666.5 362V435M667.5 364V436M668.5 365V422M669.5 367V439M670.5 371V443M671.5 372V432M672.5 379V450M673.5 387V457M674.5 406V453"/>
<path stroke="#76acd7" d="M85.5 401V457M86.5 379V450M87.5 372V427M88.5 373V443M89.5 367V433M89.5 436V439M90.5 365V421M91.5 365V436M92.5 362V434M93.5 360V416M94.5 361V434M95.5 359V429M96.5 356V417M97.5 358V433M98.5 357V424M99.5 354V418M100.5 355V429M101.5 354V426M102.5 351V418M102.5 422V425M103.5 352V425M104.5 352V424M105.5 350V416M105.5 421V423M106.5 351V423M107.5 351V424M108.5 348V415M108.5 419V421M109.5 349V414M110.5 350V425M111.5 347V408M112.5 347V415M113.5 348V423M114.5 347V404M115.5 346V413M115.5 418V420M116.5 347V420M117.5 346V402M118.5 345V410M118.5 415V418M119.5 346V418M120.5 345V406M121.5 344V411M121.5 415V418M122.5 346V418M123.5 344V420M124.5 343V404M125.5 345V410M126.5 344V419M127.5 343V402M128.5 344V416M129.5 344V416M130.5 343V400M131.5 344V415M132.5 343V415M133.5 342V396M134.5 342V415M135.5 343V415M136.5 341V399M137.5 341V417M138.5 343V408M139.5 340V406M140.5 340V402M141.5 342V414M142.5 340V407M142.5 411V414M143.5 340V394M144.5 341V413M145.5 339V407M145.5 410V413M146.5 340V397M147.5 342V413M148.5 339V413M149.5 340V397M150.5 341V415M151.5 340V408M152.5 339V400M153.5 340V416M154.5 340V411M155.5 338V406M155.5 409V411M156.5 340V414M157.5 340V412M158.5 338V404M158.5 409V412M159.5 340V412M160.5 340V412M161.5 338V406M161.5 410V412M162.5 340V412M163.5 340V414M164.5 338V402M164.5 408V409M165.5 339V404M166.5 340V416M167.5 338V399M168.5 338V410M169.5 340V414M170.5 339V396M171.5 338V406M171.5 410V412M172.5 340V412M173.5 339V394M174.5 338V404M174.5 409V412M175.5 340V412M176.5 339V413M177.5 338V404M177.5 409V410M178.5 341V411M179.5 339V416M180.5 339V399M181.5 341V409M182.5 340V415M183.5 339V396M184.5 341V413M185.5 341V413M186.5 340V396M187.5 341V413M188.5 341V413M189.5 340V394M190.5 341V414M191.5 342V413M192.5 340V400M193.5 340V417M194.5 342V409M195.5 340V409M196.5 341V402M197.5 342V415M198.5 341V408M198.5 412V415M199.5 342V396M200.5 344V415M201.5 341V409M201.5 412V415M202.5 343V396M203.5 344V417M204.5 342V416M205.5 343V402M206.5 345V420M207.5 344V410M208.5 344V404M209.5 345V421M210.5 346V418M211.5 345V412M211.5 416V418M212.5 347V419M213.5 347V419M214.5 346V412M214.5 417V419M215.5 349V420M216.5 349V422M217.5 348V416M217.5 420V421M218.5 350V422M219.5 351V426M220.5 350V412M221.5 352V417M222.5 354V429M223.5 353V413M224.5 355V427M225.5 358V431M226.5 358V414M227.5 360V427M227.5 430V432M228.5 365V435M229.5 365V422M230.5 371V442M231.5 395V452M232.5 399V455M233.5 372V437M234.5 372V437M235.5 364V438M236.5 360V419M237.5 360V430M238.5 357V430M239.5 354V408M240.5 355V426M241.5 353V424M242.5 351V405M243.5 351V423M244.5 349V422M245.5 347V403M246.5 346V422M247.5 347V416M248.5 345V408M249.5 344V421M250.5 345V415M251.5 342V410M251.5 413V415M252.5 342V404M253.5 343V415M254.5 341V408M254.5 412V414M255.5 341V396M256.5 342V413M257.5 339V406M257.5 410V413M258.5 339V395M259.5 341V414M260.5 338V410M261.5 338V398M262.5 339V414M263.5 338V404M264.5 336V400M265.5 338V412M266.5 337V409M267.5 335V401M267.5 405V409M268.5 337V409M269.5 336V408M270.5 334V401M270.5 405V407M271.5 336V408M272.5 336V409M273.5 333V399M273.5 404V406M274.5 335V406M275.5 335V410M276.5 333V393M277.5 333V401M278.5 334V408M279.5 332V389M280.5 331V406M281.5 333V405M282.5 332V388M283.5 331V396M283.5 401V404M284.5 332V404M285.5 331V384M286.5 330V397M286.5 401V404M287.5 332V404M288.5 330V399M288.5 401V406M289.5 329V390M290.5 331V397M291.5 329V405M292.5 329V388M293.5 331V403M294.5 329V403M295.5 329V386M296.5 330V402M297.5 329V401M298.5 328V382M299.5 330V402M300.5 329V402M301.5 328V386M302.5 327V404M303.5 329V395M304.5 327V392M305.5 327V403M306.5 328V400M307.5 326V393M307.5 397V400M308.5 327V388M309.5 328V400M310.5 326V393M310.5 396V399M311.5 327V383M312.5 328V400M313.5 325V393M313.5 397V399M314.5 326V383M315.5 327V402M316.5 325V394M317.5 325V386M318.5 326V402M319.5 326V392M320.5 325V392M320.5 396V398M321.5 326V400M322.5 326V398M323.5 324V390M323.5 395V398M324.5 327V398M325.5 326V398M326.5 324V391M326.5 396V398M327.5 326V398M328.5 326V400M329.5 324V388M329.5 393V394M330.5 325V394M331.5 325V401M332.5 324V385M333.5 324V395M334.5 325V399M335.5 324V381M336.5 323V397M337.5 325V397M338.5 324V379M339.5 323V389M339.5 393V397M340.5 325V397M341.5 323V380M342.5 323V388M342.5 393V394M343.5 325V395M344.5 323V393M344.5 395V399M345.5 323V384M346.5 325V393M347.5 323V398M348.5 323V379M349.5 324V397M350.5 323V396M351.5 323V379M352.5 325V396M353.5 324V396M354.5 323V377M355.5 324V397M356.5 324V395M357.5 323V383M358.5 323V399M359.5 324V391M360.5 323V391M361.5 323V398M362.5 324V396M363.5 323V389M363.5 393V396M364.5 323V384M365.5 324V395M366.5 323V389M366.5 392V395M367.5 323V376M368.5 324V397M369.5 323V389M369.5 393V395M370.5 323V382M371.5 324V399M372.5 323V388M373.5 323V383M374.5 323V398M375.5 323V389M376.5 323V388M376.5 392V396M377.5 323V396M378.5 323V395M379.5 323V389M379.5 392V395M380.5 324V395M381.5 324V396M382.5 323V389M382.5 393V395M383.5 324V396M384.5 324V398M385.5 323V383M386.5 323V389M387.5 324V399M388.5 323V381M389.5 323V395M390.5 323V397M391.5 323V380M392.5 323V395M393.5 323V395M394.5 323V377M395.5 323V388M395.5 392V396M396.5 324V396M397.5 323V379M398.5 323V384M399.5 324V391M400.5 323V392M400.5 394V399M401.5 323V383M402.5 324V395M403.5 323V397M404.5 323V380M405.5 324V396M406.5 323V396M407.5 323V378M408.5 325V396M409.5 324V397M410.5 323V378M411.5 324V398M412.5 325V393M413.5 323V386M414.5 323V400M415.5 325V395M416.5 323V390M416.5 393V395M417.5 324V398M418.5 325V397M419.5 323V390M419.5 394V396M420.5 324V386M421.5 325V397M422.5 323V391M422.5 394V397M423.5 324V379M424.5 326V399M425.5 323V395M426.5 324V385M427.5 325V401M428.5 324V389M429.5 324V392M430.5 325V400M431.5 325V390M432.5 324V390M432.5 395V398M433.5 326V398M434.5 325V398M435.5 324V392M435.5 396V397M436.5 326V398M437.5 327V400M438.5 324V391M438.5 396V397M439.5 327V398M440.5 327V402M441.5 325V386M442.5 327V394M443.5 327V402M444.5 326V383M445.5 326V400M446.5 327V400M447.5 327V383M448.5 326V399M449.5 328V400M450.5 327V384M451.5 326V393M451.5 398V400M452.5 329V400M453.5 327V386M454.5 327V387M455.5 329V395M456.5 327V398M456.5 399V403M457.5 328V386M458.5 329V402M459.5 328V402M460.5 328V386M461.5 330V402M462.5 329V402M463.5 329V383M464.5 331V403M465.5 331V403M466.5 329V387M467.5 331V406M468.5 332V396M469.5 329V395M470.5 330V406M471.5 332V404M472.5 330V397M472.5 401V403M473.5 331V404M474.5 333V404M475.5 330V398M475.5 401V404M476.5 332V391M477.5 333V405M478.5 331V399M478.5 403V405M479.5 332V390M480.5 334V408M481.5 332V401M482.5 333V393M483.5 334V410M484.5 334V397M485.5 333V401M485.5 404V406M486.5 335V409M487.5 335V399M488.5 334V400M488.5 405V408M489.5 337V408M490.5 336V409M491.5 335V403M491.5 407V408M492.5 338V410M493.5 338V412M494.5 336V400M495.5 339V407M496.5 339V414M497.5 338V399M498.5 340V410M499.5 340V414M500.5 339V396M501.5 340V413M502.5 342V413M503.5 341V396M504.5 341V414M505.5 343V415M506.5 342V400M507.5 343V408M508.5 345V415M509.5 344V405M510.5 345V405M511.5 347V416M512.5 346V416M512.5 418V422M513.5 347V404M514.5 350V422M515.5 348V423M516.5 351V407M517.5 353V424M518.5 353V426M519.5 354V408M520.5 357V430M521.5 359V430M522.5 360V419M523.5 364V438M524.5 367V437M525.5 372V437M526.5 399V455M527.5 398V452M528.5 371V436M528.5 438V441M529.5 365V441M530.5 365V435M531.5 360V426M531.5 431V432M532.5 358V420M533.5 358V431M534.5 355V421M535.5 353V414M536.5 354V429M537.5 352V416M538.5 350V418M539.5 351V426M540.5 350V411M541.5 348V414M541.5 418V422M542.5 350V422M543.5 348V420M544.5 346V413M544.5 417V419M545.5 348V419M546.5 347V419M547.5 345V412M547.5 416V418M548.5 347V418M549.5 346V420M550.5 344V404M551.5 345V410M552.5 345V420M553.5 343V402M554.5 344V416M555.5 343V417M556.5 343V400M557.5 342V415M558.5 343V415M559.5 342V396M560.5 341V415M561.5 343V415M562.5 341V398M563.5 340V402M564.5 342V409M565.5 340V400M566.5 340V401M567.5 342V413M568.5 340V414M569.5 340V397M570.5 341V413M571.5 339V413M572.5 340V394M573.5 341V413M574.5 340V413M575.5 339V395M576.5 340V415M577.5 341V409M578.5 339V402M579.5 340V416M580.5 340V410M581.5 338V406M581.5 409V410M582.5 339V414M583.5 340V412M584.5 338V406M584.5 409V412M585.5 340V412M586.5 341V412M587.5 338V406M587.5 409V412M588.5 339V401M589.5 340V414M590.5 338V406M590.5 409V410M591.5 339V400M592.5 340V416M593.5 339V401M594.5 338V406M594.5 408V409M595.5 340V414M596.5 339V399M597.5 338V404M597.5 409V412M598.5 341V412M599.5 340V412M600.5 338V406M600.5 410V412M601.5 340V412M602.5 340V414M603.5 338V405M603.5 409V411M604.5 341V411M605.5 340V416M606.5 339V403M607.5 341V408M608.5 341V415M609.5 339V396M610.5 341V413M611.5 341V413M612.5 340V394M613.5 340V413M614.5 342V413M615.5 340V398M616.5 340V414M617.5 342V414M618.5 340V400M619.5 340V401M620.5 343V408M621.5 341V402M622.5 341V400M623.5 343V415M624.5 341V409M624.5 410V415M625.5 342V399M626.5 344V415M627.5 342V415M628.5 343V396M629.5 343V417M630.5 344V416M631.5 343V401M632.5 344V419M633.5 345V410M634.5 343V409M635.5 345V420M636.5 346V417M637.5 344V411M637.5 415V417M638.5 345V419M639.5 347V418M640.5 344V412M640.5 415V418M641.5 347V418M642.5 348V420M643.5 346V413M643.5 417V419M644.5 347V410M645.5 348V423M646.5 347V415M647.5 348V412M648.5 349V425M649.5 348V409M650.5 349V416M650.5 420V421M651.5 350V424M652.5 350V412M653.5 350V417M653.5 421V423M654.5 352V424M655.5 352V425M656.5 351V419M656.5 423V425M657.5 354V426M658.5 354V429M659.5 354V418M660.5 357V424M661.5 357V433M662.5 356V418M663.5 359V429M664.5 360V434M665.5 360V416M666.5 363V434M667.5 365V436M668.5 365V419M669.5 367V439M670.5 372V443M671.5 372V430M672.5 379V450M673.5 394V457M674.5 406V451"/>
<path stroke="#5f9ed0" d="M85.5 405V457M86.5 379V430M87.5 373V418M88.5 373V443M89.5 367V422M90.5 365V414M91.5 366V436M92.5 363V416M93.5 360V408M94.5 362V434M95.5 361V423M95.5 427V429M96.5 356V407M97.5 360V433M98.5 357V420M99.5 354V406M100.5 357V429M101.5 356V419M102.5 352V402M103.5 355V414M104.5 354V424M105.5 350V400M106.5 353V409M107.5 353V424M108.5 349V402M109.5 350V402M110.5 352V425M111.5 348V398M112.5 348V397M113.5 350V423M114.5 347V395M115.5 346V401M116.5 349V420M117.5 346V394M118.5 345V395M119.5 348V418M120.5 345V391M121.5 344V396M122.5 347V417M123.5 345V400M124.5 343V393M125.5 346V410M126.5 346V412M126.5 414V419M127.5 343V394M128.5 346V416M129.5 346V416M130.5 343V390M131.5 345V415M132.5 345V415M133.5 342V388M134.5 345V408M134.5 411V415M135.5 344V415M136.5 341V392M137.5 342V395M138.5 343V408M139.5 340V395M140.5 341V392M141.5 343V413M142.5 340V392M143.5 341V386M144.5 343V413M145.5 340V395M146.5 340V389M147.5 343V413M148.5 341V394M149.5 340V389M150.5 343V415M151.5 342V402M151.5 407V408M152.5 339V389M153.5 343V416M154.5 342V403M155.5 339V391M156.5 342V413M157.5 342V404M158.5 338V389M159.5 342V402M160.5 342V412M161.5 338V393M162.5 342V400M163.5 343V414M164.5 338V390M165.5 340V395M166.5 342V415M167.5 339V389M168.5 339V391M169.5 342V414M170.5 339V385M171.5 339V393M172.5 341V412M173.5 339V388M174.5 338V389M175.5 342V412M176.5 339V385M177.5 338V391M178.5 342V410M179.5 342V395M180.5 339V389M181.5 341V409M182.5 343V409M182.5 410V414M183.5 339V388M184.5 342V413M185.5 343V413M186.5 340V389M187.5 343V413M188.5 343V413M189.5 340V386M190.5 344V407M190.5 410V414M191.5 343V413M192.5 340V392M193.5 341V395M194.5 343V409M195.5 340V395M196.5 341V391M197.5 344V415M198.5 341V396M199.5 342V389M200.5 345V415M201.5 342V397M202.5 343V388M203.5 346V417M204.5 344V397M205.5 343V395M206.5 347V420M207.5 346V409M208.5 344V393M209.5 348V420M210.5 348V408M211.5 345V397M212.5 348V419M213.5 349V410M214.5 346V396M215.5 350V411M216.5 351V422M217.5 348V403M218.5 352V411M219.5 353V426M220.5 350V400M221.5 353V410M222.5 356V429M223.5 353V405M224.5 356V408M225.5 359V431M226.5 358V404M227.5 360V411M228.5 365V435M229.5 366V413M230.5 372V425M231.5 398V452M232.5 399V431M233.5 372V426M234.5 373V437M235.5 366V417M236.5 360V412M237.5 361V430M238.5 359V424M238.5 426V430M239.5 354V400M240.5 356V426M241.5 355V424M242.5 351V398M243.5 352V423M244.5 351V422M245.5 347V396M246.5 350V415M246.5 417V422M247.5 349V416M248.5 345V400M249.5 345V395M250.5 346V415M251.5 343V395M252.5 343V389M253.5 345V415M254.5 341V396M255.5 341V390M256.5 343V413M257.5 340V394M258.5 340V387M259.5 343V414M260.5 340V391M261.5 338V388M262.5 341V414M263.5 339V400M264.5 336V388M265.5 340V412M266.5 339V397M267.5 335V386M268.5 339V409M269.5 338V408M270.5 334V389M271.5 337V399M272.5 338V408M273.5 333V387M274.5 337V395M275.5 337V410M276.5 333V383M277.5 334V395M277.5 400V401M278.5 336V408M279.5 332V380M280.5 333V386M281.5 334V405M282.5 332V380M283.5 331V380M284.5 334V404M285.5 331V376M286.5 330V382M287.5 333V404M288.5 330V381M289.5 329V379M290.5 332V396M291.5 332V389M292.5 329V380M293.5 332V403M294.5 333V403M295.5 329V377M296.5 331V402M297.5 331V401M298.5 329V375M299.5 332V402M300.5 331V401M301.5 328V379M302.5 331V396M302.5 399V403M303.5 330V394M304.5 327V382M305.5 328V379M306.5 330V400M307.5 326V378M308.5 327V372M309.5 330V400M310.5 326V381M311.5 327V377M312.5 329V400M313.5 326V380M314.5 326V376M315.5 329V401M316.5 327V386M316.5 393V394M317.5 325V375M318.5 329V402M319.5 327V386M320.5 325V377M321.5 328V400M322.5 328V384M323.5 324V374M324.5 328V398M325.5 327V398M326.5 324V379M327.5 327V390M328.5 328V400M329.5 324V376M330.5 327V387M331.5 327V401M332.5 324V375M333.5 326V389M333.5 393V395M334.5 327V399M335.5 324V370M336.5 325V374M337.5 326V397M338.5 324V372M339.5 323V373M340.5 326V397M341.5 324V369M342.5 323V376M343.5 326V395M344.5 324V376M345.5 323V373M346.5 325V393M347.5 325V382M348.5 323V372M349.5 326V397M350.5 326V390M350.5 391V396M351.5 323V372M352.5 326V396M353.5 326V396M354.5 323V369M355.5 326V397M356.5 325V395M357.5 323V374M358.5 326V383M359.5 325V391M360.5 323V376M361.5 324V375M362.5 325V396M363.5 323V377M364.5 323V370M365.5 325V395M366.5 323V377M367.5 323V368M368.5 326V396M369.5 323V376M370.5 323V374M371.5 326V399M372.5 323V380M373.5 323V371M374.5 326V398M375.5 324V380M376.5 323V373M377.5 325V396M378.5 325V380M379.5 323V377M380.5 325V395M381.5 326V396M382.5 323V376M383.5 325V387M384.5 326V398M385.5 323V371M386.5 324V388M387.5 326V398M388.5 323V373M389.5 324V389M389.5 393V395M390.5 325V396M391.5 323V369M392.5 323V372M393.5 325V395M394.5 323V370M395.5 323V373M396.5 325V396M397.5 323V371M398.5 323V373M399.5 325V391M400.5 323V378M401.5 323V374M402.5 325V395M403.5 325V380M404.5 323V369M405.5 326V396M406.5 325V390M406.5 391V396M407.5 323V371M408.5 326V396M409.5 326V396M410.5 323V372M411.5 326V398M412.5 325V393M413.5 323V378M414.5 327V384M415.5 326V394M416.5 323V376M417.5 325V376M418.5 327V397M419.5 323V378M420.5 324V372M421.5 327V397M422.5 323V378M423.5 324V371M424.5 328V399M425.5 324V382M426.5 324V375M427.5 328V401M428.5 325V379M429.5 324V377M430.5 328V400M431.5 326V380M432.5 324V375M433.5 328V398M434.5 327V385M435.5 324V380M436.5 328V398M437.5 329V399M438.5 325V378M439.5 328V391M440.5 329V402M441.5 325V375M442.5 328V394M443.5 329V401M444.5 326V374M445.5 328V393M445.5 397V399M446.5 329V400M447.5 327V375M448.5 327V376M449.5 329V400M450.5 327V374M451.5 326V381M452.5 330V400M453.5 327V378M454.5 327V376M455.5 330V394M456.5 328V377M457.5 328V379M458.5 331V401M459.5 330V385M460.5 329V376M461.5 331V401M462.5 332V396M462.5 397V401M463.5 329V375M464.5 333V403M465.5 332V403M466.5 329V380M467.5 333V405M468.5 332V396M469.5 329V385M470.5 333V392M471.5 333V403M472.5 330V384M473.5 332V385M474.5 334V404M475.5 331V386M476.5 332V379M477.5 335V405M478.5 331V386M479.5 333V382M480.5 336V408M481.5 333V386M482.5 333V383M483.5 337V410M484.5 334V385M485.5 333V386M486.5 337V408M487.5 335V388M488.5 334V384M489.5 338V408M490.5 338V394M491.5 335V390M492.5 339V409M493.5 340V412M494.5 336V388M495.5 339V403M496.5 341V414M497.5 338V391M498.5 341V410M499.5 342V414M500.5 339V385M501.5 342V405M501.5 410V413M502.5 343V413M503.5 341V389M504.5 342V391M505.5 345V415M506.5 342V388M507.5 343V396M508.5 346V415M509.5 344V397M510.5 345V395M511.5 348V416M512.5 347V397M513.5 347V396M514.5 351V422M515.5 350V405M516.5 351V399M517.5 355V424M518.5 356V426M519.5 354V400M520.5 359V430M521.5 361V430M522.5 360V411M523.5 365V438M524.5 373V434M525.5 372V429M526.5 399V442M527.5 398V452M528.5 371V425M529.5 367V422M530.5 366V435M531.5 360V414M532.5 359V404M533.5 359V431M534.5 355V408M535.5 354V404M536.5 356V429M537.5 352V407M538.5 350V404M539.5 354V426M540.5 350V400M541.5 348V399M542.5 352V422M543.5 348V400M544.5 346V401M545.5 349V419M546.5 349V404M547.5 345V399M548.5 348V418M549.5 348V420M550.5 344V393M551.5 346V410M552.5 347V420M553.5 343V393M554.5 346V416M555.5 345V417M556.5 343V390M557.5 345V407M557.5 412V415M558.5 345V415M559.5 342V389M560.5 342V392M561.5 344V415M562.5 341V389M563.5 340V391M564.5 343V409M565.5 340V390M566.5 340V392M567.5 343V413M568.5 340V393M569.5 340V386M570.5 343V413M571.5 342V395M572.5 340V387M573.5 343V413M574.5 343V413M575.5 339V388M576.5 342V415M577.5 342V409M578.5 339V394M579.5 343V415M580.5 341V406M581.5 338V391M582.5 343V401M583.5 342V412M584.5 338V394M585.5 341V389M586.5 342V412M587.5 338V393M588.5 339V386M589.5 342V414M590.5 338V391M591.5 339V389M592.5 343V415M593.5 339V393M594.5 339V392M595.5 342V414M596.5 340V387M597.5 338V389M598.5 342V412M599.5 340V390M600.5 338V394M601.5 342V412M602.5 343V397M603.5 339V392M604.5 342V411M605.5 343V416M606.5 339V395M607.5 342V408M608.5 343V415M609.5 340V387M610.5 343V413M611.5 343V413M612.5 340V387M613.5 342V405M613.5 410V413M614.5 343V413M615.5 340V387M616.5 341V394M617.5 343V414M618.5 341V391M619.5 341V390M620.5 343V408M621.5 341V390M622.5 341V392M623.5 344V415M624.5 342V396M625.5 342V390M626.5 345V415M627.5 344V397M628.5 343V389M629.5 345V416M630.5 346V416M631.5 343V392M632.5 347V419M633.5 346V410M634.5 343V398M635.5 347V420M636.5 347V417M637.5 344V398M638.5 348V407M639.5 348V418M640.5 345V400M641.5 348V398M642.5 350V420M643.5 346V401M644.5 348V397M645.5 350V423M646.5 347V401M647.5 348V398M648.5 352V425M649.5 349V400M650.5 349V401M651.5 352V424M652.5 351V396M653.5 350V405M654.5 354V424M655.5 353V401M656.5 352V407M657.5 356V426M658.5 357V415M659.5 354V406M660.5 357V424M661.5 360V433M662.5 356V410M663.5 361V429M664.5 362V434M665.5 360V406M666.5 364V434M667.5 366V436M668.5 365V413M669.5 370V432M669.5 435V439M670.5 373V443M671.5 372V420M672.5 380V434M673.5 400V457M674.5 406V443"/>
<path stroke="#4991c9" d="M85.5 405V457M86.5 380V428M87.5 373V417M88.5 375V443M89.5 369V411M90.5 365V405M91.5 367V436M92.5 365V406M93.5 360V403M94.5 364V434M95.5 362V410M96.5 357V401M97.5 361V433M98.5 360V418M99.5 354V401M100.5 359V423M100.5 424V429M101.5 357V413M102.5 352V400M103.5 357V406M104.5 355V414M105.5 350V398M106.5 355V403M107.5 354V424M108.5 349V395M109.5 353V391M110.5 353V425M111.5 348V394M112.5 349V395M113.5 352V423M114.5 348V391M115.5 348V391M116.5 351V420M117.5 347V387M118.5 346V393M119.5 350V418M120.5 347V389M121.5 344V391M122.5 348V417M123.5 349V387M124.5 343V391M125.5 348V410M126.5 348V397M127.5 343V385M128.5 347V416M129.5 347V410M129.5 412V416M130.5 343V385M131.5 347V409M131.5 413V415M132.5 346V415M133.5 342V385M134.5 347V392M135.5 346V415M136.5 341V383M137.5 345V384M138.5 346V408M139.5 341V382M140.5 342V382M141.5 345V413M142.5 341V387M143.5 341V385M144.5 344V413M145.5 342V383M146.5 341V381M147.5 345V413M148.5 342V384M149.5 340V382M150.5 344V415M151.5 344V389M152.5 339V385M153.5 344V416M154.5 344V399M155.5 339V385M156.5 345V400M157.5 343V398M158.5 338V387M159.5 344V395M160.5 344V412M161.5 338V383M162.5 343V394M163.5 343V414M164.5 338V386M165.5 343V383M166.5 344V415M167.5 339V383M168.5 341V385M169.5 343V414M170.5 340V384M171.5 340V382M172.5 344V412M173.5 340V379M174.5 339V387M175.5 343V412M176.5 341V384M177.5 338V385M178.5 343V410M179.5 344V381M180.5 339V384M181.5 344V409M182.5 344V397M183.5 339V382M184.5 343V413M185.5 344V407M185.5 408V412M186.5 340V380M187.5 345V406M187.5 410V412M188.5 344V413M189.5 340V385M190.5 345V391M191.5 345V413M192.5 340V383M193.5 345V381M194.5 345V408M195.5 340V384M196.5 343V383M197.5 345V415M198.5 342V386M199.5 342V385M200.5 347V415M201.5 344V385M202.5 343V387M203.5 347V417M204.5 346V388M205.5 343V385M206.5 349V420M207.5 349V401M208.5 344V392M209.5 350V420M210.5 349V403M211.5 345V392M212.5 351V407M213.5 351V404M214.5 346V395M215.5 351V404M216.5 353V421M217.5 348V393M218.5 353V406M219.5 355V426M220.5 350V398M221.5 354V398M222.5 357V429M223.5 354V395M224.5 358V402M225.5 361V430M226.5 358V402M227.5 362V407M228.5 368V435M229.5 366V406M230.5 372V419M231.5 398V452M232.5 399V427M233.5 372V418M234.5 373V436M235.5 367V407M236.5 360V402M237.5 363V430M238.5 361V413M239.5 355V399M240.5 357V426M241.5 356V418M241.5 420V424M242.5 351V392M243.5 354V414M243.5 420V422M244.5 352V422M245.5 347V390M246.5 352V399M247.5 350V416M248.5 345V386M249.5 349V387M250.5 348V414M251.5 343V389M252.5 344V386M253.5 346V415M254.5 342V385M255.5 342V381M256.5 345V413M257.5 341V384M258.5 340V383M259.5 344V414M260.5 342V385M261.5 338V382M262.5 343V414M263.5 342V391M264.5 336V384M265.5 342V412M266.5 340V391M267.5 335V384M268.5 340V397M269.5 340V394M270.5 334V378M271.5 339V393M272.5 339V408M273.5 333V380M274.5 338V386M275.5 338V410M276.5 333V379M277.5 336V382M278.5 338V408M279.5 333V376M280.5 335V376M281.5 337V405M282.5 332V373M283.5 333V379M284.5 335V404M285.5 332V376M286.5 330V377M287.5 334V403M288.5 332V373M289.5 330V377M290.5 335V396M291.5 335V378M292.5 329V371M293.5 333V403M294.5 334V385M295.5 329V371M296.5 333V401M297.5 333V395M297.5 398V401M298.5 329V372M299.5 333V394M299.5 398V401M300.5 332V401M301.5 328V369M302.5 333V381M303.5 332V394M304.5 327V369M305.5 332V369M306.5 332V400M307.5 327V374M308.5 329V371M309.5 331V400M310.5 327V369M311.5 328V373M312.5 331V400M313.5 328V370M314.5 327V368M315.5 331V401M316.5 328V369M317.5 326V371M318.5 330V402M319.5 330V377M320.5 325V371M321.5 331V399M322.5 329V378M323.5 324V373M324.5 330V387M325.5 330V383M326.5 324V368M327.5 329V385M328.5 329V393M328.5 395V399M329.5 324V371M330.5 329V380M331.5 329V401M332.5 324V368M333.5 327V376M334.5 329V399M335.5 324V369M336.5 327V372M337.5 329V397M338.5 324V365M339.5 324V371M340.5 328V397M341.5 324V369M342.5 323V370M343.5 328V394M344.5 327V365M345.5 323V368M346.5 328V393M347.5 328V370M348.5 323V366M349.5 327V396M350.5 328V378M351.5 323V363M352.5 328V396M353.5 327V389M353.5 393V395M354.5 323V367M355.5 327V389M355.5 393V397M356.5 327V395M357.5 323V365M358.5 327V372M359.5 327V389M360.5 323V366M361.5 327V365M362.5 327V396M363.5 323V367M364.5 325V365M365.5 327V395M366.5 323V365M367.5 324V367M368.5 327V396M369.5 324V368M370.5 323V364M371.5 327V398M372.5 325V363M373.5 323V370M374.5 327V398M375.5 326V371M376.5 323V369M377.5 328V396M378.5 327V373M379.5 323V371M380.5 327V385M381.5 327V380M382.5 323V367M383.5 326V380M384.5 327V398M385.5 323V370M386.5 327V381M387.5 327V398M388.5 323V365M389.5 326V375M390.5 328V396M391.5 323V365M392.5 325V370M393.5 327V395M394.5 323V365M395.5 323V370M396.5 326V396M397.5 323V366M398.5 323V370M399.5 327V391M400.5 326V363M401.5 323V365M402.5 326V395M403.5 327V368M404.5 323V367M405.5 327V396M406.5 327V378M407.5 323V364M408.5 328V396M409.5 327V396M410.5 323V366M411.5 329V390M411.5 394V398M412.5 328V393M413.5 323V364M414.5 328V373M415.5 328V390M416.5 323V369M417.5 328V367M418.5 327V397M419.5 323V367M420.5 326V364M421.5 329V397M422.5 324V367M423.5 325V368M424.5 329V399M425.5 326V370M426.5 325V368M427.5 329V401M428.5 327V365M429.5 325V369M430.5 330V399M431.5 329V372M432.5 324V372M433.5 330V397M434.5 330V375M435.5 324V368M436.5 329V389M437.5 330V382M438.5 325V371M439.5 330V386M440.5 331V402M441.5 325V371M442.5 330V388M443.5 331V401M444.5 326V370M445.5 330V380M446.5 331V400M447.5 327V367M448.5 329V375M449.5 331V400M450.5 327V370M451.5 328V372M452.5 331V400M453.5 329V370M454.5 327V374M455.5 332V394M456.5 331V376M457.5 328V369M458.5 332V401M459.5 332V373M460.5 329V370M461.5 333V401M462.5 333V383M463.5 329V372M464.5 334V403M465.5 334V402M466.5 329V371M467.5 335V398M467.5 401V405M468.5 334V396M469.5 330V371M470.5 334V381M471.5 335V403M472.5 330V376M473.5 336V376M474.5 336V404M475.5 331V374M476.5 334V374M477.5 337V405M478.5 332V376M479.5 333V375M480.5 338V408M481.5 334V376M482.5 334V379M483.5 338V410M484.5 336V375M485.5 334V380M486.5 340V408M487.5 338V380M488.5 334V383M489.5 340V408M490.5 341V384M491.5 335V379M492.5 340V402M493.5 341V398M494.5 336V384M495.5 342V400M496.5 343V414M497.5 338V379M498.5 342V403M499.5 344V414M500.5 340V384M501.5 344V387M502.5 345V413M503.5 341V382M504.5 344V389M505.5 346V415M506.5 343V387M507.5 344V389M508.5 348V415M509.5 345V386M510.5 345V390M511.5 350V416M512.5 349V394M513.5 348V390M514.5 353V422M515.5 353V393M516.5 351V391M517.5 356V424M518.5 358V417M518.5 424V426M519.5 355V399M520.5 360V430M521.5 363V430M522.5 360V403M523.5 368V422M524.5 374V432M525.5 372V415M526.5 399V434M527.5 399V452M528.5 372V418M529.5 371V414M530.5 367V435M531.5 360V405M532.5 361V402M533.5 361V430M534.5 356V402M535.5 355V396M536.5 357V429M537.5 353V393M538.5 352V400M539.5 355V426M540.5 351V392M541.5 348V396M542.5 353V422M543.5 351V391M544.5 346V390M545.5 351V419M546.5 351V393M547.5 345V390M548.5 349V409M549.5 349V405M550.5 344V392M551.5 349V409M552.5 349V419M553.5 343V386M554.5 347V409M554.5 415V416M555.5 348V416M556.5 343V385M557.5 347V390M558.5 346V415M559.5 342V385M560.5 344V389M561.5 345V415M562.5 341V385M563.5 342V389M564.5 345V409M565.5 342V387M566.5 341V383M567.5 344V413M568.5 343V386M569.5 340V384M570.5 344V413M571.5 344V383M572.5 340V382M573.5 344V413M574.5 343V404M574.5 411V413M575.5 339V382M576.5 345V414M577.5 344V409M578.5 339V380M579.5 344V400M580.5 344V403M581.5 338V384M582.5 343V391M583.5 343V412M584.5 338V382M585.5 344V380M586.5 344V412M587.5 338V382M588.5 340V382M589.5 343V414M590.5 339V384M591.5 340V383M592.5 343V415M593.5 340V380M594.5 340V383M595.5 344V414M596.5 340V382M597.5 339V386M598.5 344V412M599.5 342V380M600.5 338V382M601.5 343V412M602.5 344V385M603.5 339V385M604.5 344V404M605.5 345V400M606.5 339V389M607.5 344V408M608.5 345V415M609.5 340V384M610.5 344V404M610.5 411V413M611.5 345V413M612.5 340V382M613.5 345V389M614.5 345V413M615.5 341V384M616.5 344V386M617.5 345V413M618.5 341V383M619.5 342V388M620.5 346V408M621.5 342V389M622.5 342V383M623.5 345V415M624.5 344V386M625.5 342V384M626.5 347V415M627.5 346V385M628.5 343V386M629.5 347V416M630.5 347V407M630.5 415V416M631.5 343V386M632.5 348V419M633.5 348V410M634.5 343V385M635.5 349V405M636.5 349V409M637.5 344V390M638.5 350V398M639.5 350V418M640.5 345V388M641.5 350V389M642.5 351V419M643.5 346V391M644.5 348V389M645.5 352V423M646.5 348V391M647.5 350V394M648.5 353V425M649.5 350V390M650.5 350V395M651.5 355V424M652.5 351V394M653.5 350V394M654.5 356V424M655.5 357V392M656.5 352V396M657.5 357V426M658.5 359V406M659.5 354V401M660.5 360V420M661.5 361V416M662.5 357V398M663.5 361V429M664.5 365V433M665.5 360V405M666.5 366V426M666.5 432V434M667.5 367V436M668.5 365V406M669.5 371V416M670.5 375V443M671.5 373V416M672.5 382V423M673.5 405V457M674.5 406V431"/>
<path stroke="#3283c3" d="M85.5 406V454M86.5 383V412M87.5 377V408M88.5 379V443M89.5 372V399M90.5 367V397M91.5 371V436M92.5 369V395M93.5 361V394M94.5 366V428M94.5 430V434M95.5 367V394M96.5 357V390M97.5 363V411M98.5 363V395M99.5 354V390M100.5 362V398M101.5 360V400M102.5 352V383M103.5 361V392M104.5 359V401M105.5 351V382M106.5 358V382M107.5 357V407M108.5 350V384M109.5 356V381M110.5 355V424M111.5 350V383M112.5 353V384M113.5 354V423M114.5 350V381M115.5 350V379M116.5 355V419M117.5 351V377M118.5 348V378M119.5 353V409M120.5 354V381M121.5 345V374M122.5 351V407M123.5 352V377M124.5 344V380M125.5 352V410M126.5 350V372M127.5 343V375M128.5 352V397M129.5 350V388M130.5 343V374M131.5 350V385M132.5 350V397M133.5 342V377M134.5 349V372M135.5 350V415M136.5 342V375M137.5 349V370M138.5 349V408M139.5 342V371M140.5 348V373M141.5 350V408M142.5 344V370M143.5 345V376M144.5 348V413M145.5 345V371M146.5 342V371M147.5 348V413M148.5 347V373M149.5 341V373M150.5 346V409M150.5 411V415M151.5 349V376M152.5 340V374M153.5 347V395M154.5 347V377M155.5 339V368M156.5 348V384M157.5 347V385M158.5 339V371M159.5 347V379M160.5 347V388M161.5 339V371M162.5 346V373M163.5 345V396M164.5 340V375M165.5 347V373M166.5 346V415M167.5 341V372M168.5 345V374M169.5 345V414M170.5 342V372M171.5 342V371M172.5 347V412M173.5 344V372M174.5 342V370M175.5 346V404M176.5 348V372M177.5 340V374M178.5 347V403M179.5 346V371M180.5 339V373M181.5 348V402M181.5 408V409M182.5 346V376M183.5 340V373M184.5 347V394M185.5 347V384M186.5 340V372M187.5 348V383M188.5 348V394M189.5 340V376M190.5 347V369M191.5 350V413M192.5 340V373M193.5 348V371M194.5 349V406M195.5 342V369M196.5 349V375M197.5 350V415M198.5 345V375M199.5 346V376M200.5 350V415M201.5 346V373M202.5 345V378M203.5 350V416M204.5 352V377M205.5 344V375M206.5 351V412M206.5 415V419M207.5 352V373M208.5 345V380M209.5 353V401M210.5 352V381M211.5 345V375M212.5 355V392M213.5 354V390M214.5 347V379M215.5 354V390M216.5 357V396M217.5 348V382M218.5 356V385M219.5 357V406M220.5 352V387M221.5 360V387M222.5 359V429M223.5 355V386M224.5 361V391M225.5 365V430M226.5 361V390M227.5 364V392M228.5 371V435M229.5 372V398M230.5 374V404M231.5 399V446M232.5 399V419M233.5 374V407M234.5 376V433M235.5 369V393M236.5 360V392M237.5 367V424M237.5 428V430M238.5 362V391M239.5 355V390M240.5 360V407M241.5 359V395M242.5 351V384M243.5 357V384M244.5 356V413M244.5 419V421M245.5 348V382M246.5 356V374M247.5 353V416M248.5 345V376M249.5 352V377M250.5 353V408M251.5 345V372M252.5 349V377M253.5 350V415M254.5 345V373M255.5 346V373M256.5 349V413M257.5 344V372M258.5 342V374M259.5 346V414M260.5 348V374M261.5 339V371M262.5 345V407M262.5 409V414M263.5 345V368M264.5 338V373M265.5 345V393M266.5 345V375M267.5 336V367M268.5 343V383M269.5 343V377M270.5 335V367M271.5 342V379M272.5 341V380M273.5 334V369M274.5 341V366M275.5 340V394M276.5 334V368M277.5 341V369M278.5 339V408M279.5 334V367M280.5 339V365M281.5 341V405M282.5 334V363M283.5 336V363M284.5 339V404M285.5 337V367M286.5 334V360M287.5 338V397M288.5 337V363M289.5 331V366M290.5 338V396M291.5 336V366M292.5 330V362M293.5 336V396M293.5 400V402M294.5 336V363M295.5 329V360M296.5 337V383M297.5 336V371M298.5 329V364M299.5 336V364M300.5 337V393M300.5 399V401M301.5 328V361M302.5 336V357M303.5 336V394M304.5 327V357M305.5 335V360M306.5 336V390M307.5 329V357M308.5 334V363M309.5 334V399M310.5 329V358M311.5 332V364M312.5 334V399M313.5 332V359M314.5 327V359M315.5 332V401M316.5 335V354M317.5 327V360M318.5 333V395M318.5 397V402M319.5 333V358M320.5 326V354M321.5 334V378M322.5 333V362M323.5 325V357M324.5 333V374M325.5 333V365M326.5 324V357M327.5 332V371M328.5 331V369M329.5 324V361M330.5 332V358M331.5 331V385M332.5 325V357M333.5 332V360M334.5 333V399M335.5 325V357M336.5 330V355M337.5 332V397M338.5 326V357M339.5 328V355M340.5 330V397M341.5 329V357M342.5 327V359M343.5 331V390M344.5 330V355M345.5 324V357M346.5 332V393M347.5 330V359M348.5 323V357M349.5 330V390M349.5 393V396M350.5 331V356M351.5 324V355M352.5 331V378M353.5 331V365M354.5 323V358M355.5 330V359M356.5 330V386M356.5 393V395M357.5 323V355M358.5 330V357M359.5 332V386M360.5 323V351M361.5 329V356M362.5 331V386M363.5 324V356M364.5 330V357M365.5 331V395M366.5 325V353M367.5 328V358M368.5 329V396M369.5 328V357M370.5 324V354M371.5 329V398M372.5 331V352M373.5 324V359M374.5 330V392M374.5 393V398M375.5 329V356M376.5 323V352M377.5 331V376M378.5 330V357M379.5 323V355M380.5 330V374M381.5 330V361M382.5 323V356M383.5 329V363M384.5 329V374M385.5 323V359M386.5 331V358M387.5 329V382M388.5 323V355M389.5 330V357M390.5 331V396M391.5 323V354M392.5 330V355M393.5 330V395M394.5 325V357M395.5 327V353M396.5 329V396M397.5 327V357M398.5 326V359M399.5 331V389M400.5 330V353M401.5 324V355M402.5 329V395M403.5 330V358M404.5 323V355M405.5 331V390M405.5 393V396M406.5 331V354M407.5 323V356M408.5 331V373M409.5 331V371M410.5 323V358M411.5 332V361M412.5 331V385M412.5 392V393M413.5 323V354M414.5 331V356M415.5 333V385M416.5 324V352M417.5 330V358M418.5 331V386M419.5 325V356M420.5 332V357M421.5 332V397M422.5 326V356M423.5 330V359M424.5 331V399M425.5 329V360M426.5 326V357M427.5 332V401M428.5 332V355M429.5 326V352M430.5 333V386M431.5 333V360M432.5 325V356M433.5 333V380M434.5 333V358M435.5 325V357M436.5 333V378M437.5 332V362M438.5 325V360M439.5 333V368M440.5 333V376M441.5 326V360M442.5 334V363M443.5 332V385M444.5 327V360M445.5 333V359M446.5 335V394M446.5 395V399M447.5 327V358M448.5 334V359M449.5 334V399M450.5 329V358M451.5 332V361M452.5 334V400M453.5 333V360M454.5 330V363M455.5 336V394M456.5 334V364M457.5 329V360M458.5 335V401M459.5 336V362M460.5 329V359M461.5 337V395M461.5 398V401M462.5 336V359M463.5 329V364M464.5 336V380M465.5 338V377M466.5 329V363M467.5 337V369M468.5 338V388M469.5 330V360M470.5 337V362M471.5 339V390M472.5 331V365M473.5 338V367M474.5 339V392M475.5 333V362M476.5 340V366M477.5 339V405M478.5 335V365M479.5 336V366M480.5 339V408M481.5 338V361M482.5 335V368M483.5 341V410M484.5 341V366M485.5 336V363M486.5 343V396M487.5 342V371M488.5 335V366M489.5 343V391M490.5 344V367M491.5 336V368M492.5 343V392M493.5 343V380M494.5 337V373M495.5 346V382M496.5 345V388M497.5 338V369M498.5 346V378M499.5 348V397M500.5 340V373M501.5 347V371M502.5 348V413M503.5 342V374M504.5 350V373M505.5 349V415M506.5 344V375M507.5 349V379M508.5 352V414M509.5 350V376M510.5 348V379M511.5 355V416M512.5 353V383M513.5 349V381M514.5 356V422M515.5 357V382M516.5 351V382M517.5 359V416M517.5 421V424M518.5 362V385M519.5 355V391M520.5 364V408M521.5 367V404M522.5 360V393M523.5 370V401M524.5 376V424M525.5 372V404M526.5 399V418M527.5 399V439M528.5 372V405M529.5 376V398M530.5 370V423M531.5 362V393M532.5 367V393M533.5 364V430M534.5 358V391M535.5 358V386M536.5 359V429M537.5 356V382M538.5 353V388M539.5 358V426M540.5 358V384M541.5 350V379M542.5 355V410M543.5 355V382M544.5 347V378M545.5 355V404M546.5 353V377M547.5 345V379M548.5 352V396M549.5 351V386M550.5 344V380M551.5 353V391M552.5 351V392M553.5 343V376M554.5 350V383M555.5 352V400M556.5 343V374M557.5 349V374M558.5 350V415M559.5 342V376M560.5 350V372M561.5 348V415M562.5 345V375M563.5 345V378M564.5 349V409M565.5 346V376M566.5 344V372M567.5 348V413M568.5 346V375M569.5 342V372M570.5 348V413M571.5 348V371M572.5 340V373M573.5 347V405M573.5 409V413M574.5 348V370M575.5 340V374M576.5 348V392M577.5 347V384M578.5 339V370M579.5 346V379M580.5 348V393M581.5 339V368M582.5 346V374M583.5 347V394M584.5 339V371M585.5 347V372M586.5 347V401M587.5 341V371M588.5 347V373M589.5 345V413M590.5 341V367M591.5 343V372M592.5 346V415M593.5 343V370M594.5 341V367M595.5 348V414M596.5 347V374M597.5 341V370M598.5 347V401M599.5 347V372M600.5 339V371M601.5 347V398M602.5 346V372M603.5 339V374M604.5 347V393M605.5 347V380M606.5 340V378M607.5 348V390M608.5 348V387M609.5 340V374M610.5 346V370M611.5 348V406M611.5 410V413M612.5 341V374M613.5 348V372M614.5 347V413M615.5 341V372M616.5 349V375M617.5 348V413M618.5 344V373M619.5 346V376M620.5 350V408M621.5 346V378M622.5 345V374M623.5 349V415M624.5 347V375M625.5 344V373M626.5 350V415M627.5 350V373M628.5 343V378M629.5 350V409M629.5 412V416M630.5 350V373M631.5 343V377M632.5 351V392M633.5 352V392M634.5 344V373M635.5 351V385M636.5 353V396M637.5 344V379M638.5 352V381M639.5 353V398M640.5 345V376M641.5 354V380M642.5 353V408M643.5 348V379M644.5 355V380M645.5 354V423M646.5 350V376M647.5 353V383M648.5 356V424M649.5 352V381M650.5 352V378M651.5 359V424M652.5 358V387M653.5 353V382M654.5 359V414M655.5 359V384M656.5 352V385M657.5 360V410M658.5 360V387M659.5 354V390M660.5 364V412M661.5 363V395M662.5 357V388M663.5 365V410M664.5 368V406M665.5 360V394M666.5 368V393M667.5 371V428M667.5 433V436M668.5 365V398M669.5 375V400M670.5 378V443M671.5 373V404M672.5 384V412M673.5 406V457M674.5 406V423"/>
<path stroke="#1b75bc" d="M85.5 406V451M86.5 387V401M87.5 382V399M88.5 381V433M89.5 376V390M90.5 373V389M91.5 375V419M92.5 373V386M93.5 366V385M94.5 369V406M95.5 370V385M96.5 358V380M97.5 367V387M98.5 367V380M99.5 356V381M100.5 365V382M101.5 363V375M102.5 353V373M103.5 363V377M104.5 363V385M105.5 353V372M106.5 362V372M107.5 360V387M108.5 352V375M109.5 360V371M110.5 360V400M111.5 356V372M112.5 359V373M113.5 358V407M114.5 357V369M115.5 358V371M116.5 358V405M117.5 357V370M118.5 353V367M119.5 357V398M120.5 356V372M121.5 349V365M122.5 355V395M123.5 356V367M124.5 347V368M125.5 355V386M126.5 354V367M127.5 344V367M128.5 355V371M129.5 353V368M130.5 343V366M131.5 354V365M132.5 354V373M133.5 343V368M134.5 352V362M135.5 353V389M136.5 346V369M137.5 353V364M138.5 353V400M139.5 347V365M140.5 352V367M141.5 352V400M142.5 349V361M143.5 350V367M144.5 352V402M145.5 351V362M146.5 348V364M147.5 350V396M148.5 351V364M149.5 346V364M150.5 350V388M151.5 351V365M152.5 341V364M153.5 351V372M154.5 350V363M155.5 341V360M156.5 351V369M157.5 351V367M158.5 340V360M159.5 350V364M160.5 351V372M161.5 341V363M162.5 351V360M163.5 349V375M164.5 341V365M165.5 350V362M166.5 350V389M167.5 346V362M168.5 350V365M169.5 349V397M170.5 348V360M171.5 350V363M172.5 351V398M173.5 350V364M174.5 347V360M175.5 350V394M176.5 351V361M177.5 344V366M178.5 351V392M179.5 351V363M180.5 342V363M181.5 351V378M182.5 350V365M183.5 340V364M184.5 351V369M185.5 350V363M186.5 340V364M187.5 351V362M188.5 352V370M189.5 341V366M190.5 350V361M191.5 352V387M192.5 345V367M193.5 352V365M194.5 352V397M195.5 347V364M196.5 353V369M197.5 353V399M198.5 351V366M199.5 352V368M200.5 353V402M201.5 354V364M202.5 351V369M203.5 353V400M204.5 355V368M205.5 347V367M206.5 354V384M207.5 355V367M208.5 346V369M209.5 356V378M210.5 356V368M211.5 347V366M212.5 357V377M213.5 358V373M214.5 348V369M215.5 359V371M216.5 360V379M217.5 350V374M218.5 361V372M219.5 362V384M220.5 355V376M221.5 363V376M222.5 364V402M223.5 361V377M224.5 367V382M225.5 368V414M226.5 367V380M227.5 370V382M228.5 374V420M229.5 378V391M230.5 379V395M231.5 399V439M232.5 399V409M233.5 380V398M234.5 379V423M235.5 374V387M236.5 363V384M237.5 370V398M238.5 366V382M239.5 356V381M240.5 365V383M241.5 362V374M242.5 351V376M243.5 360V369M244.5 360V380M245.5 349V376M246.5 358V369M247.5 357V391M248.5 349V370M249.5 356V370M250.5 355V399M251.5 349V365M252.5 353V368M253.5 354V398M254.5 350V364M255.5 351V366M256.5 351V400M257.5 352V363M258.5 349V365M259.5 349V397M260.5 350V365M261.5 342V361M262.5 349V379M263.5 349V362M264.5 339V363M265.5 348V372M266.5 348V365M267.5 337V356M268.5 346V364M269.5 347V361M270.5 336V358M271.5 346V357M272.5 344V364M273.5 335V360M274.5 345V356M275.5 345V374M276.5 337V357M277.5 344V358M278.5 344V381M279.5 339V354M280.5 344V357M281.5 343V388M282.5 340V355M283.5 343V353M284.5 343V390M285.5 343V358M286.5 339V351M287.5 341V390M288.5 342V354M289.5 334V354M290.5 341V379M291.5 341V355M292.5 333V353M293.5 341V370M294.5 339V354M295.5 330V352M296.5 340V360M297.5 340V351M298.5 329V355M299.5 338V348M300.5 340V359M301.5 329V355M302.5 339V351M303.5 339V371M304.5 331V351M305.5 339V354M306.5 339V379M307.5 332V348M308.5 336V353M309.5 338V380M310.5 335V349M311.5 338V354M312.5 336V389M313.5 338V350M314.5 334V350M315.5 336V380M316.5 337V348M317.5 330V350M318.5 337V368M319.5 336V349M320.5 328V346M321.5 337V362M322.5 337V353M323.5 326V346M324.5 336V355M325.5 336V349M326.5 325V349M327.5 336V346M328.5 335V353M329.5 326V351M330.5 336V348M331.5 336V364M332.5 328V347M333.5 336V351M334.5 336V371M335.5 330V346M336.5 335V345M337.5 335V387M338.5 334V349M339.5 335V345M340.5 334V384M341.5 335V345M342.5 333V350M343.5 335V385M344.5 335V348M345.5 328V346M346.5 335V374M347.5 334V349M348.5 327V348M349.5 335V365M350.5 333V347M351.5 325V347M352.5 334V355M353.5 335V345M354.5 323V349M355.5 332V344M356.5 333V352M357.5 324V347M358.5 334V347M359.5 334V369M360.5 327V345M361.5 333V347M362.5 334V372M363.5 327V347M364.5 332V349M365.5 334V374M366.5 330V345M367.5 334V349M368.5 332V384M369.5 334V348M370.5 331V345M371.5 333V377M372.5 334V346M373.5 327V347M374.5 334V366M375.5 333V345M376.5 325V342M377.5 334V361M378.5 334V349M379.5 324V345M380.5 334V353M381.5 332V346M382.5 323V347M383.5 334V346M384.5 334V355M385.5 324V347M386.5 334V347M387.5 334V361M388.5 326V346M389.5 334V349M390.5 334V368M391.5 328V345M392.5 334V344M393.5 334V386M394.5 332V349M395.5 334V343M396.5 333V384M397.5 334V345M398.5 333V348M399.5 334V387M400.5 334V347M401.5 328V345M402.5 334V376M403.5 333V349M404.5 327V345M405.5 334V365M406.5 335V346M407.5 324V348M408.5 333V348M409.5 335V343M410.5 324V351M411.5 335V345M412.5 334V351M413.5 324V348M414.5 335V349M415.5 335V368M416.5 327V345M417.5 333V349M418.5 335V371M419.5 328V347M420.5 334V349M421.5 334V374M422.5 331V347M423.5 336V349M424.5 334V386M425.5 336V350M426.5 333V349M427.5 336V380M428.5 336V349M429.5 329V347M430.5 336V368M431.5 336V353M432.5 328V345M433.5 335V364M434.5 337V350M435.5 327V348M436.5 337V358M437.5 335V347M438.5 326V351M439.5 337V348M440.5 337V357M441.5 327V349M442.5 337V351M443.5 337V363M444.5 329V348M445.5 338V351M446.5 338V371M447.5 331V350M448.5 338V348M449.5 338V391M450.5 336V349M451.5 339V353M452.5 339V391M453.5 339V350M454.5 334V352M455.5 339V389M456.5 339V353M457.5 333V351M458.5 340V382M459.5 338V353M460.5 332V352M461.5 340V372M462.5 341V351M463.5 330V355M464.5 339V355M465.5 341V349M466.5 330V357M467.5 341V353M468.5 341V357M469.5 331V354M470.5 341V353M471.5 342V372M472.5 334V356M473.5 341V357M474.5 343V376M475.5 335V353M476.5 343V358M477.5 342V387M478.5 342V356M479.5 344V357M480.5 343V394M481.5 344V355M482.5 343V357M483.5 345V390M484.5 344V357M485.5 339V355M486.5 346V379M487.5 346V363M488.5 338V356M489.5 346V376M490.5 347V360M491.5 338V360M492.5 348V371M493.5 347V361M494.5 338V363M495.5 349V361M496.5 349V368M497.5 339V363M498.5 350V365M499.5 351V375M500.5 342V361M501.5 351V361M502.5 352V390M503.5 347V366M504.5 353V363M505.5 353V407M506.5 351V364M507.5 355V370M508.5 355V408M509.5 356V368M510.5 352V369M511.5 357V410M512.5 357V372M513.5 353V372M514.5 360V403M515.5 360V373M516.5 352V374M517.5 362V386M518.5 365V374M519.5 355V382M520.5 367V383M521.5 369V377M522.5 361V383M523.5 374V390M524.5 380V402M525.5 375V397M526.5 399V411M527.5 399V424M528.5 374V396M529.5 378V390M530.5 375V406M531.5 364V384M532.5 370V383M533.5 367V410M534.5 365V381M535.5 365V376M536.5 363V414M537.5 363V376M538.5 361V376M539.5 362V402M540.5 361V377M541.5 354V368M542.5 358V395M543.5 359V374M544.5 350V370M545.5 358V389M546.5 356V369M547.5 347V370M548.5 357V376M549.5 356V368M550.5 345V369M551.5 356V368M552.5 355V372M553.5 344V366M554.5 355V369M555.5 354V377M556.5 345V365M557.5 354V364M558.5 354V391M559.5 347V368M560.5 353V361M561.5 352V406M562.5 349V363M563.5 352V366M564.5 352V405M565.5 352V365M566.5 348V363M567.5 352V406M568.5 350V366M569.5 347V362M570.5 352V395M571.5 351V363M572.5 342V365M573.5 350V375M574.5 351V360M575.5 340V368M576.5 351V367M577.5 351V362M578.5 340V364M579.5 351V365M580.5 351V372M581.5 341V361M582.5 349V364M583.5 351V377M584.5 342V362M585.5 350V364M586.5 349V388M587.5 345V362M588.5 350V364M589.5 348V392M590.5 348V361M591.5 350V364M592.5 351V400M593.5 350V363M594.5 348V361M595.5 351V392M596.5 351V367M597.5 345V360M598.5 349V387M599.5 351V364M600.5 343V363M601.5 351V384M602.5 349V361M603.5 341V365M604.5 351V372M605.5 351V362M606.5 340V365M607.5 351V365M608.5 351V368M609.5 341V362M610.5 350V360M611.5 352V375M612.5 343V366M613.5 352V362M614.5 352V389M615.5 346V363M616.5 352V367M617.5 352V407M618.5 348V364M619.5 352V365M620.5 353V406M621.5 352V366M622.5 349V365M623.5 353V406M624.5 352V366M625.5 349V365M626.5 353V397M627.5 354V365M628.5 345V369M629.5 352V379M630.5 353V363M631.5 344V366M632.5 355V373M633.5 355V368M634.5 345V367M635.5 354V367M636.5 356V376M637.5 346V370M638.5 355V372M639.5 357V381M640.5 348V367M641.5 357V372M642.5 356V393M643.5 352V371M644.5 358V371M645.5 357V399M646.5 356V370M647.5 359V372M648.5 360V409M649.5 359V372M650.5 359V370M651.5 361V403M652.5 362V378M653.5 357V373M654.5 362V401M655.5 362V376M656.5 355V376M657.5 365V392M658.5 365V378M659.5 356V381M660.5 367V390M661.5 368V379M662.5 358V381M663.5 369V385M664.5 371V386M665.5 361V381M666.5 373V383M667.5 375V397M668.5 367V390M669.5 378V390M670.5 380V418M671.5 378V395M672.5 388V404M673.5 406V450M674.5 406V414M674.5 416V418"/>
</g>
<line x1="231.88" y1="440.00" x2="231.88" y2="458.20" stroke="#8cbde4" stroke-width="2.8"/>
<line x1="526.82" y1="440.00" x2="526.82" y2="460.40" stroke="#8cbde4" stroke-width="2.8"/>
<line x1="158.49" y1="322.55" x2="158.49" y2="509.50" stroke="#68666d" stroke-width="1.5"/>
<line x1="232.18" y1="322.55" x2="232.18" y2="509.50" stroke="#68666d" stroke-width="1.5"/>
<line x1="305.86" y1="322.55" x2="305.86" y2="472.00" stroke="#68666d" stroke-width="1.5"/>
<line x1="305.86" y1="505.60" x2="305.86" y2="509.50" stroke="#68666d" stroke-width="1.5"/>
<line x1="379.55" y1="322.55" x2="379.55" y2="472.00" stroke="#68666d" stroke-width="1.5"/>
<line x1="379.55" y1="505.60" x2="379.55" y2="509.50" stroke="#68666d" stroke-width="1.5"/>
<line x1="453.24" y1="322.55" x2="453.24" y2="472.00" stroke="#68666d" stroke-width="1.5"/>
<line x1="453.24" y1="505.60" x2="453.24" y2="509.50" stroke="#68666d" stroke-width="1.5"/>
<line x1="526.92" y1="322.55" x2="526.92" y2="509.50" stroke="#68666d" stroke-width="1.5"/>
<line x1="600.61" y1="322.55" x2="600.61" y2="509.50" stroke="#68666d" stroke-width="1.5"/>
<line x1="84.80" y1="383.90" x2="674.30" y2="383.90" stroke="#68666d" stroke-width="1.5"/>
<line x1="84.80" y1="446.40" x2="674.30" y2="446.40" stroke="#68666d" stroke-width="1.5"/>
<rect x="84.80" y="322.55" width="589.50" height="186.95" fill="none" stroke="#26262e" stroke-width="2.4"/>
<text x="66.73" y="328.80" textLength="10.22" lengthAdjust="spacingAndGlyphs" font-size="18.9">0</text>
<text x="46.03" y="390.30" textLength="30.91" lengthAdjust="spacingAndGlyphs" font-size="18.9">−50</text>
<text x="38.87" y="452.80" textLength="38.01" lengthAdjust="spacingAndGlyphs" font-size="18.9">−100</text>
<text x="38.87" y="516.40" textLength="38.01" lengthAdjust="spacingAndGlyphs" font-size="18.9">−150</text>
<text x="66.92" y="538.00" textLength="36.75" lengthAdjust="spacingAndGlyphs" font-size="18.9">−0.2</text>
<text x="137.37" y="538.00" textLength="42.95" lengthAdjust="spacingAndGlyphs" font-size="18.9">−0.15</text>
<text x="217.89" y="538.00" textLength="32.22" lengthAdjust="spacingAndGlyphs" font-size="18.9">−0.1</text>
<text x="282.32" y="538.00" textLength="46.94" lengthAdjust="spacingAndGlyphs" font-size="18.9">−0.05</text>
<text x="374.96" y="538.00" textLength="9.64" lengthAdjust="spacingAndGlyphs" font-size="18.9">0</text>
<text x="434.70" y="538.00" textLength="37.58" lengthAdjust="spacingAndGlyphs" font-size="18.9">0.05</text>
<text x="516.15" y="538.00" textLength="22.60" lengthAdjust="spacingAndGlyphs" font-size="18.9">0.1</text>
<text x="584.46" y="538.00" textLength="33.36" lengthAdjust="spacingAndGlyphs" font-size="18.9">0.15</text>
<text x="660.59" y="538.00" textLength="27.09" lengthAdjust="spacingAndGlyphs" font-size="18.9">0.2</text>
<text x="307.56" y="576.60" textLength="146.39" lengthAdjust="spacingAndGlyphs">Frequency (MHz)</text>
<text transform="translate(17.10,481.60) rotate(-90)" x="-1.14" y="0" textLength="132.60" lengthAdjust="spacingAndGlyphs" font-size="18.5">Magnitude (dB)</text>
<polygon points="234.40,465.10 256.20,459.20 256.20,471.00" fill="#26262e"/>
<polygon points="524.60,465.10 503.00,459.20 503.00,471.00" fill="#26262e"/>
<line x1="246.00" y1="465.10" x2="512.00" y2="465.10" stroke="#26262e" stroke-width="2.2" stroke-dasharray="9.8 6.6" stroke-dashoffset="0"/>
<text x="300.48" y="493.90" textLength="153.16" lengthAdjust="spacingAndGlyphs">Main Lobe = 2/PW</text>
<text x="618.06" y="474.10" textLength="49.59" lengthAdjust="spacingAndGlyphs">Noise</text>
<text x="620.49" y="497.50" textLength="44.57" lengthAdjust="spacingAndGlyphs">Floor</text>
<line x1="613.30" y1="480.00" x2="545.00" y2="455.10" stroke="#26262e" stroke-width="2.3"/>
<polygon points="532.9,450.7 554.6,452.5 550.6,463.3" fill="#26262e"/>
</g>
<g id="chart-zoom">
<clipPath id="c3"><rect x="84.9" y="632.6" width="589.40" height="187.20"/></clipPath>
<line x1="129.67" y1="632.60" x2="129.67" y2="819.80" stroke="#68666d" stroke-width="1.5"/>
<line x1="193.34" y1="632.60" x2="193.34" y2="819.80" stroke="#68666d" stroke-width="1.5"/>
<line x1="257.01" y1="632.60" x2="257.01" y2="819.80" stroke="#68666d" stroke-width="1.5"/>
<line x1="320.68" y1="632.60" x2="320.68" y2="750.40" stroke="#68666d" stroke-width="1.5"/>
<line x1="320.68" y1="776.90" x2="320.68" y2="819.80" stroke="#68666d" stroke-width="1.5"/>
<line x1="384.35" y1="632.60" x2="384.35" y2="750.40" stroke="#68666d" stroke-width="1.5"/>
<line x1="384.35" y1="776.90" x2="384.35" y2="819.80" stroke="#68666d" stroke-width="1.5"/>
<line x1="511.69" y1="632.60" x2="511.69" y2="819.80" stroke="#68666d" stroke-width="1.5"/>
<line x1="575.36" y1="632.60" x2="575.36" y2="819.80" stroke="#68666d" stroke-width="1.5"/>
<line x1="639.03" y1="632.60" x2="639.03" y2="819.80" stroke="#68666d" stroke-width="1.5"/>
<line x1="84.90" y1="649.85" x2="674.30" y2="649.85" stroke="#68666d" stroke-width="1.5"/>
<line x1="84.90" y1="675.98" x2="674.30" y2="675.98" stroke="#68666d" stroke-width="1.5"/>
<line x1="84.90" y1="702.10" x2="674.30" y2="702.10" stroke="#68666d" stroke-width="1.5"/>
<line x1="84.90" y1="728.23" x2="674.30" y2="728.23" stroke="#68666d" stroke-width="1.5"/>
<line x1="84.90" y1="754.35" x2="294.70" y2="754.35" stroke="#68666d" stroke-width="1.5"/>
<line x1="465.90" y1="754.35" x2="674.30" y2="754.35" stroke="#68666d" stroke-width="1.5"/>
<line x1="84.90" y1="780.48" x2="674.30" y2="780.48" stroke="#68666d" stroke-width="1.5"/>
<line x1="84.90" y1="806.60" x2="674.30" y2="806.60" stroke="#68666d" stroke-width="1.5"/>
<polyline clip-path="url(#c3)" points="63.75,650.20 73.46,653.32 83.18,669.88 92.89,718.72 102.61,720.45 112.32,670.33 122.04,653.47 131.75,650.14 141.47,658.71 151.18,684.23 160.90,730.08 170.61,689.62 180.33,660.74 190.04,650.53 199.76,652.39 209.48,667.23 219.19,709.04 228.91,727.45 238.62,673.26 248.34,654.52 258.05,649.92 267.77,657.13 277.48,680.15 287.20,727.75 296.91,694.98 306.63,662.67 316.34,650.99 326.06,651.62 335.77,664.83 345.49,701.31 355.20,726.92 364.92,676.51 374.63,655.74 384.35,649.85 394.07,655.74 403.78,676.51 413.50,726.92 423.21,701.31 432.93,664.83 442.64,651.62 452.36,650.99 462.07,662.67 471.79,694.98 481.50,727.75 491.22,680.15 500.93,657.13 510.65,649.92 520.36,654.52 530.08,673.26 539.79,727.45 549.51,709.04 559.22,667.23 568.94,652.39 578.66,650.53 588.37,660.74 598.09,689.62 607.80,730.08 617.52,684.23 627.23,658.71 636.95,650.14 646.66,653.47 656.38,670.33 666.09,720.45 675.81,718.72 685.52,669.88 695.24,653.32" fill="none" stroke="#1b75bc" stroke-width="3.6" stroke-linejoin="round"/>
<rect x="84.90" y="632.60" width="589.40" height="187.20" fill="none" stroke="#26262e" stroke-width="2.4"/>
<text x="66.18" y="655.75" textLength="11.02" lengthAdjust="spacingAndGlyphs" font-size="18.9">0</text>
<text x="45.72" y="681.88" textLength="31.43" lengthAdjust="spacingAndGlyphs" font-size="18.9">−20</text>
<text x="44.91" y="708.00" textLength="32.27" lengthAdjust="spacingAndGlyphs" font-size="18.9">−40</text>
<text x="45.72" y="734.12" textLength="31.43" lengthAdjust="spacingAndGlyphs" font-size="18.9">−60</text>
<text x="46.23" y="760.25" textLength="30.91" lengthAdjust="spacingAndGlyphs" font-size="18.9">−80</text>
<text x="38.97" y="786.38" textLength="38.11" lengthAdjust="spacingAndGlyphs" font-size="18.9">−100</text>
<text x="38.97" y="812.50" textLength="38.11" lengthAdjust="spacingAndGlyphs" font-size="18.9">−120</text>
<text x="118.85" y="848.20" textLength="20.14" lengthAdjust="spacingAndGlyphs" font-size="18.9">−4</text>
<text x="183.46" y="848.20" textLength="19.77" lengthAdjust="spacingAndGlyphs" font-size="18.9">−3</text>
<text x="247.46" y="848.20" textLength="19.56" lengthAdjust="spacingAndGlyphs" font-size="18.9">−2</text>
<text x="311.43" y="848.20" textLength="18.53" lengthAdjust="spacingAndGlyphs" font-size="18.9">−1</text>
<text x="379.33" y="848.20" textLength="10.22" lengthAdjust="spacingAndGlyphs" font-size="18.9">0</text>
<text x="443.62" y="848.20" textLength="9.04" lengthAdjust="spacingAndGlyphs" font-size="18.9">1</text>
<text x="506.69" y="848.20" textLength="10.90" lengthAdjust="spacingAndGlyphs" font-size="18.9">2</text>
<text x="570.81" y="848.20" textLength="10.25" lengthAdjust="spacingAndGlyphs" font-size="18.9">3</text>
<text x="634.30" y="848.20" textLength="9.89" lengthAdjust="spacingAndGlyphs" font-size="18.9">4</text>
<text x="653.82" y="867.90" textLength="26.31" lengthAdjust="spacingAndGlyphs" font-size="17.4">×10</text>
<text x="679.98" y="862.70" textLength="12.82" lengthAdjust="spacingAndGlyphs" font-size="12.0">−3</text>
<text x="307.06" y="887.20" textLength="147.00" lengthAdjust="spacingAndGlyphs">Frequency (MHz)</text>
<text transform="translate(17.10,792.10) rotate(-90)" x="-1.14" y="0" textLength="132.60" lengthAdjust="spacingAndGlyphs" font-size="18.5">Magnitude (dB)</text>
<line x1="320.60" y1="608.10" x2="320.60" y2="665.80" stroke="#26262e" stroke-width="2.4"/>
<line x1="384.35" y1="608.10" x2="384.35" y2="665.80" stroke="#26262e" stroke-width="2.4"/>
<polygon points="322.00,620.00 343.60,614.20 343.60,625.80" fill="#26262e"/>
<polygon points="383.40,620.00 362.00,614.20 362.00,625.80" fill="#26262e"/>
<line x1="348.60" y1="620.00" x2="358.30" y2="620.00" stroke="#26262e" stroke-width="2.3"/>
<text x="392.72" y="627.40" textLength="34.65" lengthAdjust="spacingAndGlyphs">PRF</text>
<line x1="355.10" y1="709.20" x2="355.10" y2="747.30" stroke="#26262e" stroke-width="2.4"/>
<line x1="414.30" y1="709.20" x2="414.30" y2="747.30" stroke="#26262e" stroke-width="2.4"/>
<polygon points="356.00,739.00 377.40,733.25 377.40,744.75" fill="#26262e"/>
<polygon points="413.70,739.00 392.10,733.25 392.10,744.75" fill="#26262e"/>
<line x1="379.80" y1="739.00" x2="389.00" y2="739.00" stroke="#26262e" stroke-width="2.3"/>
<text x="309.87" y="769.30" textLength="135.60" lengthAdjust="spacingAndGlyphs">Line Resolution</text>
</g>
<g id="param-table" class="t">
<rect x="740.00" y="11.30" width="124.10" height="53.95" fill="#80459b"/>
<rect x="865.70" y="11.30" width="99.00" height="53.95" fill="#80459b"/>
<rect x="966.30" y="11.30" width="115.60" height="53.95" fill="#80459b"/>
<rect x="740.00" y="66.85" width="124.10" height="53.15" fill="#f3f3f5"/>
<rect x="865.70" y="66.85" width="99.00" height="53.15" fill="#f3f3f5"/>
<rect x="966.30" y="66.85" width="115.60" height="53.15" fill="#f3f3f5"/>
<rect x="740.00" y="121.60" width="124.10" height="53.15" fill="#e2e3e9"/>
<rect x="865.70" y="121.60" width="99.00" height="53.15" fill="#e2e3e9"/>
<rect x="966.30" y="121.60" width="115.60" height="53.15" fill="#e2e3e9"/>
<rect x="740.00" y="176.35" width="124.10" height="53.15" fill="#f3f3f5"/>
<rect x="865.70" y="176.35" width="99.00" height="53.15" fill="#f3f3f5"/>
<rect x="966.30" y="176.35" width="115.60" height="53.15" fill="#f3f3f5"/>
<rect x="740.00" y="231.10" width="124.10" height="53.15" fill="#e2e3e9"/>
<rect x="865.70" y="231.10" width="99.00" height="53.15" fill="#e2e3e9"/>
<rect x="966.30" y="231.10" width="115.60" height="53.15" fill="#e2e3e9"/>
<rect x="740.00" y="285.85" width="124.10" height="53.15" fill="#f3f3f5"/>
<rect x="865.70" y="285.85" width="99.00" height="53.15" fill="#f3f3f5"/>
<rect x="966.30" y="285.85" width="115.60" height="53.15" fill="#f3f3f5"/>
<rect x="740.00" y="340.60" width="124.10" height="53.15" fill="#e2e3e9"/>
<rect x="865.70" y="340.60" width="99.00" height="53.15" fill="#e2e3e9"/>
<rect x="966.30" y="340.60" width="115.60" height="53.15" fill="#e2e3e9"/>
<rect x="740.00" y="395.35" width="124.10" height="53.15" fill="#f3f3f5"/>
<rect x="865.70" y="395.35" width="99.00" height="53.15" fill="#f3f3f5"/>
<rect x="966.30" y="395.35" width="115.60" height="53.15" fill="#f3f3f5"/>
<rect x="740.00" y="450.10" width="124.10" height="53.15" fill="#e2e3e9"/>
<rect x="865.70" y="450.10" width="99.00" height="53.15" fill="#e2e3e9"/>
<rect x="966.30" y="450.10" width="115.60" height="53.15" fill="#e2e3e9"/>
<rect x="740.00" y="504.85" width="124.10" height="53.15" fill="#f3f3f5"/>
<rect x="865.70" y="504.85" width="99.00" height="53.15" fill="#f3f3f5"/>
<rect x="966.30" y="504.85" width="115.60" height="53.15" fill="#f3f3f5"/>
<rect x="740.00" y="559.60" width="124.10" height="53.15" fill="#e2e3e9"/>
<rect x="865.70" y="559.60" width="99.00" height="53.15" fill="#e2e3e9"/>
<rect x="966.30" y="559.60" width="115.60" height="53.15" fill="#e2e3e9"/>
<rect x="740.00" y="614.35" width="124.10" height="53.15" fill="#f3f3f5"/>
<rect x="865.70" y="614.35" width="99.00" height="53.15" fill="#f3f3f5"/>
<rect x="966.30" y="614.35" width="115.60" height="53.15" fill="#f3f3f5"/>
<text x="751.54" y="51.50" textLength="93.46" lengthAdjust="spacingAndGlyphs" font-size="24.8" font-weight="normal" fill="#ffffff">Parameter</text>
<text x="890.50" y="51.50" textLength="47.78" lengthAdjust="spacingAndGlyphs" font-size="24.8" font-weight="normal" fill="#ffffff">Value</text>
<text x="997.01" y="51.50" textLength="46.93" lengthAdjust="spacingAndGlyphs" font-size="24.8" font-weight="normal" fill="#ffffff">Units</text>
<text x="752.26" y="106.25" textLength="10.51" lengthAdjust="spacingAndGlyphs" font-size="24.8" font-weight="normal" fill="#231f20">F</text>
<text x="762.23" y="111.95" textLength="48.48" lengthAdjust="spacingAndGlyphs" font-size="20.5" font-weight="normal" fill="#231f20">SAMPLE</text>
<text x="889.86" y="106.25" textLength="45.68" lengthAdjust="spacingAndGlyphs" font-size="24.8" font-weight="normal" fill="#231f20">15.36</text>
<text x="1000.04" y="106.25" textLength="45.14" lengthAdjust="spacingAndGlyphs" font-size="24.8" font-weight="normal" fill="#231f20">GSPS</text>
<text x="751.54" y="161.00" textLength="13.48" lengthAdjust="spacingAndGlyphs" font-size="24.8" font-weight="normal" fill="#231f20">N</text>
<text x="883.39" y="161.00" textLength="59.19" lengthAdjust="spacingAndGlyphs" font-size="24.8" font-weight="normal" fill="#231f20">65,536</text>
<text x="751.69" y="215.75" textLength="13.93" lengthAdjust="spacingAndGlyphs" font-size="24.8" font-weight="normal" fill="#231f20">M</text>
<text x="892.68" y="215.75" textLength="39.85" lengthAdjust="spacingAndGlyphs" font-size="24.8" font-weight="normal" fill="#231f20">1536</text>
<text x="751.83" y="270.50" textLength="12.48" lengthAdjust="spacingAndGlyphs" font-size="24.8" font-weight="normal" fill="#231f20">M</text>
<text x="769.60" y="270.50" textLength="11.21" lengthAdjust="spacingAndGlyphs" font-size="24.8" font-weight="normal" fill="#231f20">×</text>
<text x="784.98" y="270.50" textLength="12.20" lengthAdjust="spacingAndGlyphs" font-size="24.8" font-weight="normal" fill="#231f20">N</text>
<text x="894.25" y="270.50" textLength="38.18" lengthAdjust="spacingAndGlyphs" font-size="24.8" font-weight="normal" fill="#231f20">101M</text>
<text x="751.54" y="325.25" textLength="66.30" lengthAdjust="spacingAndGlyphs" font-size="24.8" font-weight="normal" fill="#231f20">FFT Bin</text>
<text x="891.35" y="325.25" textLength="44.06" lengthAdjust="spacingAndGlyphs" font-size="24.8" font-weight="normal" fill="#231f20">0.153</text>
<text x="1005.89" y="325.25" textLength="33.42" lengthAdjust="spacingAndGlyphs" font-size="24.8" font-weight="normal" fill="#231f20">kHz</text>
<text x="752.72" y="380.00" textLength="83.62" lengthAdjust="spacingAndGlyphs" font-size="24.8" font-weight="normal" fill="#231f20">Time (NMt</text>
<text x="837.31" y="384.40" textLength="6.18" lengthAdjust="spacingAndGlyphs" font-size="14.5" font-weight="normal" fill="#231f20">S</text>
<text x="844.60" y="380.00" textLength="6.51" lengthAdjust="spacingAndGlyphs" font-size="24.8" font-weight="normal" fill="#231f20">)</text>
<text x="900.01" y="380.00" textLength="26.46" lengthAdjust="spacingAndGlyphs" font-size="24.8" font-weight="normal" fill="#231f20">6.6</text>
<text x="1009.32" y="380.00" textLength="27.21" lengthAdjust="spacingAndGlyphs" font-size="24.8" font-weight="normal" fill="#231f20">ms</text>
<text x="751.73" y="434.75" textLength="26.12" lengthAdjust="spacingAndGlyphs" font-size="24.8" font-weight="normal" fill="#231f20">PW</text>
<text x="903.68" y="434.75" textLength="18.12" lengthAdjust="spacingAndGlyphs" font-size="24.8" font-weight="normal" fill="#231f20">10</text>
<text x="1012.13" y="434.75" textLength="21.91" lengthAdjust="spacingAndGlyphs" font-size="24.8" font-weight="normal" fill="#231f20">µs</text>
<text x="751.49" y="489.50" textLength="39.81" lengthAdjust="spacingAndGlyphs" font-size="24.8" font-weight="normal" fill="#231f20">Duty</text>
<text x="908.53" y="489.50" textLength="7.73" lengthAdjust="spacingAndGlyphs" font-size="24.8" font-weight="normal" fill="#231f20">1</text>
<text x="1013.76" y="489.50" textLength="18.25" lengthAdjust="spacingAndGlyphs" font-size="24.8" font-weight="normal" fill="#231f20">%</text>
<text x="751.71" y="544.25" textLength="33.14" lengthAdjust="spacingAndGlyphs" font-size="24.8" font-weight="normal" fill="#231f20">PRF</text>
<text x="908.53" y="544.25" textLength="7.73" lengthAdjust="spacingAndGlyphs" font-size="24.8" font-weight="normal" fill="#231f20">1</text>
<text x="1005.89" y="544.25" textLength="33.42" lengthAdjust="spacingAndGlyphs" font-size="24.8" font-weight="normal" fill="#231f20">kHz</text>
<text x="751.62" y="599.00" textLength="29.48" lengthAdjust="spacingAndGlyphs" font-size="24.8" font-weight="normal" fill="#231f20">PRI</text>
<text x="908.53" y="599.00" textLength="7.73" lengthAdjust="spacingAndGlyphs" font-size="24.8" font-weight="normal" fill="#231f20">1</text>
<text x="1009.32" y="599.00" textLength="27.21" lengthAdjust="spacingAndGlyphs" font-size="24.8" font-weight="normal" fill="#231f20">ms</text>
<text x="751.48" y="653.75" textLength="99.52" lengthAdjust="spacingAndGlyphs" font-size="24.8" font-weight="normal" fill="#231f20">Noise Floor</text>
<text x="894.42" y="653.75" textLength="37.66" lengthAdjust="spacingAndGlyphs" font-size="24.8" font-weight="normal" fill="#231f20">−126</text>
<text x="1001.25" y="653.75" textLength="43.89" lengthAdjust="spacingAndGlyphs" font-size="24.8" font-weight="normal" fill="#231f20">dBFS</text>
</g>
<g class="w">
<text x="908.30" y="885.50" textLength="163.69" lengthAdjust="spacingAndGlyphs" font-size="17" font-weight="normal" fill="#c9e8c2">www.cntronics.com</text>
</g>
</svg>
</body></html>
